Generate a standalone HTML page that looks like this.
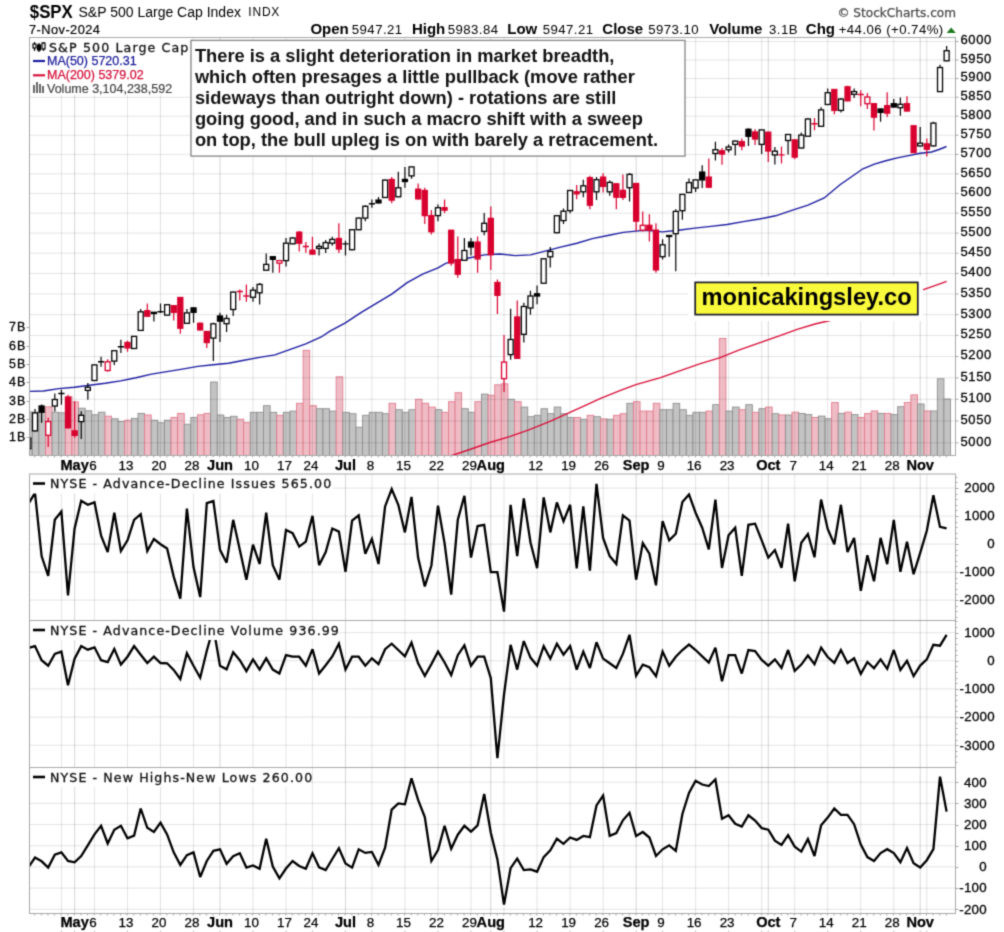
<!DOCTYPE html><html><head><meta charset="utf-8"><title>$SPX S&amp;P 500 Large Cap Index</title>
<style>html,body{margin:0;padding:0;background:#fff;}svg{display:block;}#w{width:1004px;height:932px;overflow:hidden;}.ar{font-family:"Liberation Sans",Arial,sans-serif;}.dv{font-family:"DejaVu Sans",Verdana,sans-serif;}</style></head><body><div id="w">
<svg width="1004" height="932" viewBox="0 0 1004 932">
<defs><filter id="bl" x="0" y="0" width="1004" height="932" filterUnits="userSpaceOnUse" color-interpolation-filters="sRGB"><feConvolveMatrix order="3" kernelMatrix="1 4 1 4 16 4 1 4 1" divisor="36" edgeMode="duplicate"/></filter></defs>
<g filter="url(#bl)">
<rect x="0" y="0" width="1004" height="932" fill="#fff"/>
<clipPath id="pc"><rect x="30" y="38" width="925" height="417.5"/></clipPath>
<g clip-path="url(#pc)">
<rect x="25.69" y="412.0" width="6.61" height="43.5" fill="#c3c3c3" stroke="#8f8f8f" stroke-width="0.9"/>
<rect x="32.30" y="412.2" width="6.61" height="43.3" fill="#c3c3c3" stroke="#8f8f8f" stroke-width="0.9"/>
<rect x="38.90" y="411.8" width="6.61" height="43.7" fill="#c3c3c3" stroke="#8f8f8f" stroke-width="0.9"/>
<rect x="45.51" y="406.9" width="6.61" height="48.6" fill="#efbcc5" stroke="#e07c8e" stroke-width="0.9"/>
<rect x="52.12" y="412.2" width="6.61" height="43.3" fill="#c3c3c3" stroke="#8f8f8f" stroke-width="0.9"/>
<rect x="58.72" y="412.8" width="6.61" height="42.7" fill="#c3c3c3" stroke="#8f8f8f" stroke-width="0.9"/>
<rect x="65.33" y="396.5" width="6.61" height="59.0" fill="#efbcc5" stroke="#e07c8e" stroke-width="0.9"/>
<rect x="71.93" y="401.9" width="6.61" height="53.6" fill="#efbcc5" stroke="#e07c8e" stroke-width="0.9"/>
<rect x="78.54" y="408.2" width="6.61" height="47.3" fill="#c3c3c3" stroke="#8f8f8f" stroke-width="0.9"/>
<rect x="85.14" y="410.8" width="6.61" height="44.7" fill="#c3c3c3" stroke="#8f8f8f" stroke-width="0.9"/>
<rect x="91.75" y="414.8" width="6.61" height="40.7" fill="#c3c3c3" stroke="#8f8f8f" stroke-width="0.9"/>
<rect x="98.36" y="412.2" width="6.61" height="43.3" fill="#c3c3c3" stroke="#8f8f8f" stroke-width="0.9"/>
<rect x="104.96" y="416.2" width="6.61" height="39.3" fill="#efbcc5" stroke="#e07c8e" stroke-width="0.9"/>
<rect x="111.57" y="418.8" width="6.61" height="36.7" fill="#c3c3c3" stroke="#8f8f8f" stroke-width="0.9"/>
<rect x="118.17" y="421.4" width="6.61" height="34.1" fill="#c3c3c3" stroke="#8f8f8f" stroke-width="0.9"/>
<rect x="124.78" y="420.2" width="6.61" height="35.3" fill="#efbcc5" stroke="#e07c8e" stroke-width="0.9"/>
<rect x="131.39" y="418.4" width="6.61" height="37.1" fill="#c3c3c3" stroke="#8f8f8f" stroke-width="0.9"/>
<rect x="137.99" y="413.4" width="6.61" height="42.1" fill="#c3c3c3" stroke="#8f8f8f" stroke-width="0.9"/>
<rect x="144.60" y="415.0" width="6.61" height="40.5" fill="#efbcc5" stroke="#e07c8e" stroke-width="0.9"/>
<rect x="151.21" y="420.2" width="6.61" height="35.3" fill="#c3c3c3" stroke="#8f8f8f" stroke-width="0.9"/>
<rect x="157.81" y="422.8" width="6.61" height="32.7" fill="#c3c3c3" stroke="#8f8f8f" stroke-width="0.9"/>
<rect x="164.42" y="420.2" width="6.61" height="35.3" fill="#c3c3c3" stroke="#8f8f8f" stroke-width="0.9"/>
<rect x="171.02" y="417.4" width="6.61" height="38.1" fill="#efbcc5" stroke="#e07c8e" stroke-width="0.9"/>
<rect x="177.63" y="413.4" width="6.61" height="42.1" fill="#efbcc5" stroke="#e07c8e" stroke-width="0.9"/>
<rect x="184.23" y="424.2" width="6.61" height="31.3" fill="#c3c3c3" stroke="#8f8f8f" stroke-width="0.9"/>
<rect x="190.84" y="417.4" width="6.61" height="38.1" fill="#c3c3c3" stroke="#8f8f8f" stroke-width="0.9"/>
<rect x="197.45" y="414.8" width="6.61" height="40.7" fill="#efbcc5" stroke="#e07c8e" stroke-width="0.9"/>
<rect x="204.05" y="413.4" width="6.61" height="42.1" fill="#efbcc5" stroke="#e07c8e" stroke-width="0.9"/>
<rect x="210.66" y="382.0" width="6.61" height="73.5" fill="#c3c3c3" stroke="#8f8f8f" stroke-width="0.9"/>
<rect x="217.26" y="415.0" width="6.61" height="40.5" fill="#c3c3c3" stroke="#8f8f8f" stroke-width="0.9"/>
<rect x="223.87" y="417.5" width="6.61" height="38.0" fill="#c3c3c3" stroke="#8f8f8f" stroke-width="0.9"/>
<rect x="230.48" y="416.3" width="6.61" height="39.2" fill="#c3c3c3" stroke="#8f8f8f" stroke-width="0.9"/>
<rect x="237.08" y="419.2" width="6.61" height="36.3" fill="#efbcc5" stroke="#e07c8e" stroke-width="0.9"/>
<rect x="243.69" y="422.6" width="6.61" height="32.9" fill="#efbcc5" stroke="#e07c8e" stroke-width="0.9"/>
<rect x="250.29" y="412.3" width="6.61" height="43.2" fill="#c3c3c3" stroke="#8f8f8f" stroke-width="0.9"/>
<rect x="256.90" y="412.3" width="6.61" height="43.2" fill="#c3c3c3" stroke="#8f8f8f" stroke-width="0.9"/>
<rect x="263.51" y="405.7" width="6.61" height="49.8" fill="#c3c3c3" stroke="#8f8f8f" stroke-width="0.9"/>
<rect x="270.11" y="412.3" width="6.61" height="43.2" fill="#c3c3c3" stroke="#8f8f8f" stroke-width="0.9"/>
<rect x="276.72" y="415.3" width="6.61" height="40.2" fill="#efbcc5" stroke="#e07c8e" stroke-width="0.9"/>
<rect x="283.33" y="412.3" width="6.61" height="43.2" fill="#c3c3c3" stroke="#8f8f8f" stroke-width="0.9"/>
<rect x="289.93" y="411.1" width="6.61" height="44.4" fill="#c3c3c3" stroke="#8f8f8f" stroke-width="0.9"/>
<rect x="296.54" y="403.3" width="6.61" height="52.2" fill="#efbcc5" stroke="#e07c8e" stroke-width="0.9"/>
<rect x="303.14" y="350.3" width="6.61" height="105.2" fill="#efbcc5" stroke="#e07c8e" stroke-width="0.9"/>
<rect x="309.75" y="405.7" width="6.61" height="49.8" fill="#efbcc5" stroke="#e07c8e" stroke-width="0.9"/>
<rect x="316.36" y="408.7" width="6.61" height="46.8" fill="#c3c3c3" stroke="#8f8f8f" stroke-width="0.9"/>
<rect x="322.96" y="408.7" width="6.61" height="46.8" fill="#c3c3c3" stroke="#8f8f8f" stroke-width="0.9"/>
<rect x="329.57" y="411.1" width="6.61" height="44.4" fill="#c3c3c3" stroke="#8f8f8f" stroke-width="0.9"/>
<rect x="336.17" y="376.8" width="6.61" height="78.7" fill="#efbcc5" stroke="#e07c8e" stroke-width="0.9"/>
<rect x="342.78" y="412.3" width="6.61" height="43.2" fill="#c3c3c3" stroke="#8f8f8f" stroke-width="0.9"/>
<rect x="349.38" y="413.7" width="6.61" height="41.8" fill="#c3c3c3" stroke="#8f8f8f" stroke-width="0.9"/>
<rect x="355.99" y="427.2" width="6.61" height="28.3" fill="#c3c3c3" stroke="#8f8f8f" stroke-width="0.9"/>
<rect x="362.60" y="415.3" width="6.61" height="40.2" fill="#c3c3c3" stroke="#8f8f8f" stroke-width="0.9"/>
<rect x="369.20" y="412.3" width="6.61" height="43.2" fill="#c3c3c3" stroke="#8f8f8f" stroke-width="0.9"/>
<rect x="375.81" y="412.3" width="6.61" height="43.2" fill="#c3c3c3" stroke="#8f8f8f" stroke-width="0.9"/>
<rect x="382.42" y="413.7" width="6.61" height="41.8" fill="#c3c3c3" stroke="#8f8f8f" stroke-width="0.9"/>
<rect x="389.02" y="403.3" width="6.61" height="52.2" fill="#efbcc5" stroke="#e07c8e" stroke-width="0.9"/>
<rect x="395.63" y="409.7" width="6.61" height="45.8" fill="#c3c3c3" stroke="#8f8f8f" stroke-width="0.9"/>
<rect x="402.23" y="412.3" width="6.61" height="43.2" fill="#c3c3c3" stroke="#8f8f8f" stroke-width="0.9"/>
<rect x="408.84" y="409.7" width="6.61" height="45.8" fill="#c3c3c3" stroke="#8f8f8f" stroke-width="0.9"/>
<rect x="415.44" y="399.3" width="6.61" height="56.2" fill="#efbcc5" stroke="#e07c8e" stroke-width="0.9"/>
<rect x="422.05" y="403.3" width="6.61" height="52.2" fill="#efbcc5" stroke="#e07c8e" stroke-width="0.9"/>
<rect x="428.66" y="407.1" width="6.61" height="48.4" fill="#efbcc5" stroke="#e07c8e" stroke-width="0.9"/>
<rect x="435.26" y="409.7" width="6.61" height="45.8" fill="#c3c3c3" stroke="#8f8f8f" stroke-width="0.9"/>
<rect x="441.87" y="412.3" width="6.61" height="43.2" fill="#efbcc5" stroke="#e07c8e" stroke-width="0.9"/>
<rect x="448.48" y="401.7" width="6.61" height="53.8" fill="#efbcc5" stroke="#e07c8e" stroke-width="0.9"/>
<rect x="455.08" y="392.7" width="6.61" height="62.8" fill="#efbcc5" stroke="#e07c8e" stroke-width="0.9"/>
<rect x="461.69" y="408.7" width="6.61" height="46.8" fill="#c3c3c3" stroke="#8f8f8f" stroke-width="0.9"/>
<rect x="468.29" y="412.3" width="6.61" height="43.2" fill="#c3c3c3" stroke="#8f8f8f" stroke-width="0.9"/>
<rect x="474.90" y="401.7" width="6.61" height="53.8" fill="#efbcc5" stroke="#e07c8e" stroke-width="0.9"/>
<rect x="481.50" y="394.1" width="6.61" height="61.4" fill="#c3c3c3" stroke="#8f8f8f" stroke-width="0.9"/>
<rect x="488.11" y="395.3" width="6.61" height="60.2" fill="#efbcc5" stroke="#e07c8e" stroke-width="0.9"/>
<rect x="494.72" y="384.8" width="6.61" height="70.7" fill="#efbcc5" stroke="#e07c8e" stroke-width="0.9"/>
<rect x="501.32" y="383.8" width="6.61" height="71.7" fill="#efbcc5" stroke="#e07c8e" stroke-width="0.9"/>
<rect x="507.93" y="399.3" width="6.61" height="56.2" fill="#c3c3c3" stroke="#8f8f8f" stroke-width="0.9"/>
<rect x="514.54" y="401.7" width="6.61" height="53.8" fill="#efbcc5" stroke="#e07c8e" stroke-width="0.9"/>
<rect x="521.14" y="407.1" width="6.61" height="48.4" fill="#c3c3c3" stroke="#8f8f8f" stroke-width="0.9"/>
<rect x="527.75" y="416.7" width="6.61" height="38.8" fill="#c3c3c3" stroke="#8f8f8f" stroke-width="0.9"/>
<rect x="534.35" y="415.3" width="6.61" height="40.2" fill="#c3c3c3" stroke="#8f8f8f" stroke-width="0.9"/>
<rect x="540.96" y="408.7" width="6.61" height="46.8" fill="#c3c3c3" stroke="#8f8f8f" stroke-width="0.9"/>
<rect x="547.57" y="413.7" width="6.61" height="41.8" fill="#c3c3c3" stroke="#8f8f8f" stroke-width="0.9"/>
<rect x="554.17" y="407.1" width="6.61" height="48.4" fill="#c3c3c3" stroke="#8f8f8f" stroke-width="0.9"/>
<rect x="560.78" y="413.7" width="6.61" height="41.8" fill="#c3c3c3" stroke="#8f8f8f" stroke-width="0.9"/>
<rect x="567.38" y="417.6" width="6.61" height="37.9" fill="#c3c3c3" stroke="#8f8f8f" stroke-width="0.9"/>
<rect x="573.99" y="417.6" width="6.61" height="37.9" fill="#efbcc5" stroke="#e07c8e" stroke-width="0.9"/>
<rect x="580.60" y="419.2" width="6.61" height="36.3" fill="#c3c3c3" stroke="#8f8f8f" stroke-width="0.9"/>
<rect x="587.20" y="415.3" width="6.61" height="40.2" fill="#efbcc5" stroke="#e07c8e" stroke-width="0.9"/>
<rect x="593.81" y="416.7" width="6.61" height="38.8" fill="#c3c3c3" stroke="#8f8f8f" stroke-width="0.9"/>
<rect x="600.41" y="418.9" width="6.61" height="36.6" fill="#efbcc5" stroke="#e07c8e" stroke-width="0.9"/>
<rect x="607.02" y="419.2" width="6.61" height="36.3" fill="#c3c3c3" stroke="#8f8f8f" stroke-width="0.9"/>
<rect x="613.62" y="415.3" width="6.61" height="40.2" fill="#efbcc5" stroke="#e07c8e" stroke-width="0.9"/>
<rect x="620.23" y="413.7" width="6.61" height="41.8" fill="#efbcc5" stroke="#e07c8e" stroke-width="0.9"/>
<rect x="626.84" y="403.3" width="6.61" height="52.2" fill="#c3c3c3" stroke="#8f8f8f" stroke-width="0.9"/>
<rect x="633.44" y="401.7" width="6.61" height="53.8" fill="#efbcc5" stroke="#e07c8e" stroke-width="0.9"/>
<rect x="640.05" y="411.1" width="6.61" height="44.4" fill="#efbcc5" stroke="#e07c8e" stroke-width="0.9"/>
<rect x="646.65" y="411.1" width="6.61" height="44.4" fill="#efbcc5" stroke="#e07c8e" stroke-width="0.9"/>
<rect x="653.26" y="403.3" width="6.61" height="52.2" fill="#efbcc5" stroke="#e07c8e" stroke-width="0.9"/>
<rect x="659.87" y="409.7" width="6.61" height="45.8" fill="#c3c3c3" stroke="#8f8f8f" stroke-width="0.9"/>
<rect x="666.47" y="409.7" width="6.61" height="45.8" fill="#c3c3c3" stroke="#8f8f8f" stroke-width="0.9"/>
<rect x="673.08" y="403.3" width="6.61" height="52.2" fill="#c3c3c3" stroke="#8f8f8f" stroke-width="0.9"/>
<rect x="679.69" y="409.7" width="6.61" height="45.8" fill="#c3c3c3" stroke="#8f8f8f" stroke-width="0.9"/>
<rect x="686.29" y="415.3" width="6.61" height="40.2" fill="#c3c3c3" stroke="#8f8f8f" stroke-width="0.9"/>
<rect x="692.90" y="412.3" width="6.61" height="43.2" fill="#c3c3c3" stroke="#8f8f8f" stroke-width="0.9"/>
<rect x="699.50" y="412.3" width="6.61" height="43.2" fill="#c3c3c3" stroke="#8f8f8f" stroke-width="0.9"/>
<rect x="706.11" y="411.1" width="6.61" height="44.4" fill="#efbcc5" stroke="#e07c8e" stroke-width="0.9"/>
<rect x="712.72" y="404.7" width="6.61" height="50.8" fill="#c3c3c3" stroke="#8f8f8f" stroke-width="0.9"/>
<rect x="719.32" y="338.4" width="6.61" height="117.1" fill="#efbcc5" stroke="#e07c8e" stroke-width="0.9"/>
<rect x="725.93" y="411.1" width="6.61" height="44.4" fill="#c3c3c3" stroke="#8f8f8f" stroke-width="0.9"/>
<rect x="732.53" y="407.1" width="6.61" height="48.4" fill="#c3c3c3" stroke="#8f8f8f" stroke-width="0.9"/>
<rect x="739.14" y="409.7" width="6.61" height="45.8" fill="#efbcc5" stroke="#e07c8e" stroke-width="0.9"/>
<rect x="745.75" y="404.7" width="6.61" height="50.8" fill="#c3c3c3" stroke="#8f8f8f" stroke-width="0.9"/>
<rect x="752.35" y="412.3" width="6.61" height="43.2" fill="#efbcc5" stroke="#e07c8e" stroke-width="0.9"/>
<rect x="758.96" y="408.7" width="6.61" height="46.8" fill="#c3c3c3" stroke="#8f8f8f" stroke-width="0.9"/>
<rect x="765.56" y="407.1" width="6.61" height="48.4" fill="#efbcc5" stroke="#e07c8e" stroke-width="0.9"/>
<rect x="772.17" y="413.7" width="6.61" height="41.8" fill="#c3c3c3" stroke="#8f8f8f" stroke-width="0.9"/>
<rect x="778.77" y="415.0" width="6.61" height="40.5" fill="#efbcc5" stroke="#e07c8e" stroke-width="0.9"/>
<rect x="785.38" y="415.0" width="6.61" height="40.5" fill="#c3c3c3" stroke="#8f8f8f" stroke-width="0.9"/>
<rect x="791.99" y="412.2" width="6.61" height="43.3" fill="#efbcc5" stroke="#e07c8e" stroke-width="0.9"/>
<rect x="798.59" y="413.4" width="6.61" height="42.1" fill="#c3c3c3" stroke="#8f8f8f" stroke-width="0.9"/>
<rect x="805.20" y="414.6" width="6.61" height="40.9" fill="#c3c3c3" stroke="#8f8f8f" stroke-width="0.9"/>
<rect x="811.81" y="417.5" width="6.61" height="38.0" fill="#efbcc5" stroke="#e07c8e" stroke-width="0.9"/>
<rect x="818.41" y="416.1" width="6.61" height="39.4" fill="#c3c3c3" stroke="#8f8f8f" stroke-width="0.9"/>
<rect x="825.02" y="418.7" width="6.61" height="36.8" fill="#c3c3c3" stroke="#8f8f8f" stroke-width="0.9"/>
<rect x="831.62" y="402.6" width="6.61" height="52.9" fill="#efbcc5" stroke="#e07c8e" stroke-width="0.9"/>
<rect x="838.23" y="413.4" width="6.61" height="42.1" fill="#c3c3c3" stroke="#8f8f8f" stroke-width="0.9"/>
<rect x="844.84" y="412.1" width="6.61" height="43.4" fill="#efbcc5" stroke="#e07c8e" stroke-width="0.9"/>
<rect x="851.44" y="414.6" width="6.61" height="40.9" fill="#c3c3c3" stroke="#8f8f8f" stroke-width="0.9"/>
<rect x="858.05" y="417.5" width="6.61" height="38.0" fill="#efbcc5" stroke="#e07c8e" stroke-width="0.9"/>
<rect x="864.65" y="413.4" width="6.61" height="42.1" fill="#efbcc5" stroke="#e07c8e" stroke-width="0.9"/>
<rect x="871.26" y="411.0" width="6.61" height="44.5" fill="#efbcc5" stroke="#e07c8e" stroke-width="0.9"/>
<rect x="877.87" y="413.4" width="6.61" height="42.1" fill="#c3c3c3" stroke="#8f8f8f" stroke-width="0.9"/>
<rect x="884.47" y="413.4" width="6.61" height="42.1" fill="#efbcc5" stroke="#e07c8e" stroke-width="0.9"/>
<rect x="891.08" y="414.6" width="6.61" height="40.9" fill="#c3c3c3" stroke="#8f8f8f" stroke-width="0.9"/>
<rect x="897.68" y="406.7" width="6.61" height="48.8" fill="#c3c3c3" stroke="#8f8f8f" stroke-width="0.9"/>
<rect x="904.29" y="402.6" width="6.61" height="52.9" fill="#efbcc5" stroke="#e07c8e" stroke-width="0.9"/>
<rect x="910.89" y="394.9" width="6.61" height="60.6" fill="#efbcc5" stroke="#e07c8e" stroke-width="0.9"/>
<rect x="917.50" y="404.0" width="6.61" height="51.5" fill="#c3c3c3" stroke="#8f8f8f" stroke-width="0.9"/>
<rect x="924.11" y="411.0" width="6.61" height="44.5" fill="#efbcc5" stroke="#e07c8e" stroke-width="0.9"/>
<rect x="930.71" y="411.0" width="6.61" height="44.5" fill="#c3c3c3" stroke="#8f8f8f" stroke-width="0.9"/>
<rect x="937.32" y="378.8" width="6.61" height="76.7" fill="#c3c3c3" stroke="#8f8f8f" stroke-width="0.9"/>
<rect x="943.92" y="399.0" width="6.61" height="56.5" fill="#c3c3c3" stroke="#8f8f8f" stroke-width="0.9"/>
</g>
<g>
<line x1="29.5" y1="442.88" x2="955.5" y2="442.88" stroke="rgba(0,0,0,0.11)" stroke-width="1"/>
<line x1="29.5" y1="420.97" x2="955.5" y2="420.97" stroke="rgba(0,0,0,0.11)" stroke-width="1"/>
<line x1="29.5" y1="399.29" x2="955.5" y2="399.29" stroke="rgba(0,0,0,0.11)" stroke-width="1"/>
<line x1="29.5" y1="377.81" x2="955.5" y2="377.81" stroke="rgba(0,0,0,0.11)" stroke-width="1"/>
<line x1="29.5" y1="356.54" x2="955.5" y2="356.54" stroke="rgba(0,0,0,0.11)" stroke-width="1"/>
<line x1="29.5" y1="335.48" x2="955.5" y2="335.48" stroke="rgba(0,0,0,0.11)" stroke-width="1"/>
<line x1="29.5" y1="314.61" x2="955.5" y2="314.61" stroke="rgba(0,0,0,0.11)" stroke-width="1"/>
<line x1="29.5" y1="293.95" x2="955.5" y2="293.95" stroke="rgba(0,0,0,0.11)" stroke-width="1"/>
<line x1="29.5" y1="273.47" x2="955.5" y2="273.47" stroke="rgba(0,0,0,0.11)" stroke-width="1"/>
<line x1="29.5" y1="253.18" x2="955.5" y2="253.18" stroke="rgba(0,0,0,0.11)" stroke-width="1"/>
<line x1="29.5" y1="233.08" x2="955.5" y2="233.08" stroke="rgba(0,0,0,0.11)" stroke-width="1"/>
<line x1="29.5" y1="213.16" x2="955.5" y2="213.16" stroke="rgba(0,0,0,0.11)" stroke-width="1"/>
<line x1="29.5" y1="193.42" x2="955.5" y2="193.42" stroke="rgba(0,0,0,0.11)" stroke-width="1"/>
<line x1="29.5" y1="173.85" x2="955.5" y2="173.85" stroke="rgba(0,0,0,0.11)" stroke-width="1"/>
<line x1="29.5" y1="154.46" x2="955.5" y2="154.46" stroke="rgba(0,0,0,0.11)" stroke-width="1"/>
<line x1="29.5" y1="135.23" x2="955.5" y2="135.23" stroke="rgba(0,0,0,0.11)" stroke-width="1"/>
<line x1="29.5" y1="116.17" x2="955.5" y2="116.17" stroke="rgba(0,0,0,0.11)" stroke-width="1"/>
<line x1="29.5" y1="97.28" x2="955.5" y2="97.28" stroke="rgba(0,0,0,0.11)" stroke-width="1"/>
<line x1="29.5" y1="78.55" x2="955.5" y2="78.55" stroke="rgba(0,0,0,0.11)" stroke-width="1"/>
<line x1="29.5" y1="59.97" x2="955.5" y2="59.97" stroke="rgba(0,0,0,0.11)" stroke-width="1"/>
<line x1="29.5" y1="41.55" x2="955.5" y2="41.55" stroke="rgba(0,0,0,0.11)" stroke-width="1"/>
<line x1="61.42" y1="37.5" x2="61.42" y2="455.5" stroke="rgba(0,0,0,0.11)" stroke-width="1"/><line x1="74.64" y1="37.5" x2="74.64" y2="455.5" stroke="rgba(0,0,0,0.17)" stroke-width="1"/><line x1="94.45" y1="37.5" x2="94.45" y2="455.5" stroke="rgba(0,0,0,0.11)" stroke-width="1"/><line x1="127.48" y1="37.5" x2="127.48" y2="455.5" stroke="rgba(0,0,0,0.11)" stroke-width="1"/><line x1="160.51" y1="37.5" x2="160.51" y2="455.5" stroke="rgba(0,0,0,0.11)" stroke-width="1"/><line x1="193.54" y1="37.5" x2="193.54" y2="455.5" stroke="rgba(0,0,0,0.11)" stroke-width="1"/><line x1="219.97" y1="37.5" x2="219.97" y2="455.5" stroke="rgba(0,0,0,0.17)" stroke-width="1"/><line x1="253.00" y1="37.5" x2="253.00" y2="455.5" stroke="rgba(0,0,0,0.11)" stroke-width="1"/><line x1="286.03" y1="37.5" x2="286.03" y2="455.5" stroke="rgba(0,0,0,0.11)" stroke-width="1"/><line x1="312.45" y1="37.5" x2="312.45" y2="455.5" stroke="rgba(0,0,0,0.11)" stroke-width="1"/><line x1="345.48" y1="37.5" x2="345.48" y2="455.5" stroke="rgba(0,0,0,0.17)" stroke-width="1"/><line x1="371.91" y1="37.5" x2="371.91" y2="455.5" stroke="rgba(0,0,0,0.11)" stroke-width="1"/><line x1="404.94" y1="37.5" x2="404.94" y2="455.5" stroke="rgba(0,0,0,0.11)" stroke-width="1"/><line x1="437.97" y1="37.5" x2="437.97" y2="455.5" stroke="rgba(0,0,0,0.11)" stroke-width="1"/><line x1="471.00" y1="37.5" x2="471.00" y2="455.5" stroke="rgba(0,0,0,0.11)" stroke-width="1"/><line x1="490.81" y1="37.5" x2="490.81" y2="455.5" stroke="rgba(0,0,0,0.17)" stroke-width="1"/><line x1="504.03" y1="37.5" x2="504.03" y2="455.5" stroke="rgba(0,0,0,0.11)" stroke-width="1"/><line x1="537.06" y1="37.5" x2="537.06" y2="455.5" stroke="rgba(0,0,0,0.11)" stroke-width="1"/><line x1="570.09" y1="37.5" x2="570.09" y2="455.5" stroke="rgba(0,0,0,0.11)" stroke-width="1"/><line x1="603.12" y1="37.5" x2="603.12" y2="455.5" stroke="rgba(0,0,0,0.11)" stroke-width="1"/><line x1="636.15" y1="37.5" x2="636.15" y2="455.5" stroke="rgba(0,0,0,0.17)" stroke-width="1"/><line x1="662.57" y1="37.5" x2="662.57" y2="455.5" stroke="rgba(0,0,0,0.11)" stroke-width="1"/><line x1="695.60" y1="37.5" x2="695.60" y2="455.5" stroke="rgba(0,0,0,0.11)" stroke-width="1"/><line x1="728.63" y1="37.5" x2="728.63" y2="455.5" stroke="rgba(0,0,0,0.11)" stroke-width="1"/><line x1="761.66" y1="37.5" x2="761.66" y2="455.5" stroke="rgba(0,0,0,0.11)" stroke-width="1"/><line x1="768.27" y1="37.5" x2="768.27" y2="455.5" stroke="rgba(0,0,0,0.17)" stroke-width="1"/><line x1="794.69" y1="37.5" x2="794.69" y2="455.5" stroke="rgba(0,0,0,0.11)" stroke-width="1"/><line x1="827.72" y1="37.5" x2="827.72" y2="455.5" stroke="rgba(0,0,0,0.11)" stroke-width="1"/><line x1="860.75" y1="37.5" x2="860.75" y2="455.5" stroke="rgba(0,0,0,0.11)" stroke-width="1"/><line x1="893.78" y1="37.5" x2="893.78" y2="455.5" stroke="rgba(0,0,0,0.11)" stroke-width="1"/><line x1="920.20" y1="37.5" x2="920.20" y2="455.5" stroke="rgba(0,0,0,0.17)" stroke-width="1"/><line x1="926.81" y1="37.5" x2="926.81" y2="455.5" stroke="rgba(0,0,0,0.11)" stroke-width="1"/>
</g>
<polyline clip-path="url(#pc)" points="450.5,456.0 469.8,449.5 489.7,442.5 509.6,436.6 529.5,429.6 549.4,421.6 569.4,412.7 589.3,403.7 600.0,398.7 619.9,390.7 635.9,384.7 659.8,377.8 679.7,370.8 699.6,363.8 719.5,357.8 739.4,349.9 759.4,342.9 779.3,335.9 797.9,329.2 815.9,323.8 829.3,320.7 850.0,314.0 918.0,292.0 923.4,289.6 934.2,285.8 946.7,281.3" fill="none" stroke="#d8123c" stroke-width="1.4"/>
<polyline clip-path="url(#pc)" points="29.5,391.4 43.4,391.0 58.9,388.6 74.3,387.3 89.7,385.2 105.2,383.3 120.6,380.9 136.0,377.8 151.5,374.1 166.9,371.6 182.3,369.1 197.8,366.4 213.2,364.8 228.6,363.3 244.0,360.2 259.5,357.4 274.9,354.9 290.3,349.4 305.8,343.8 321.2,337.0 330.0,331.2 345.4,322.8 360.9,312.7 376.3,303.4 391.7,294.1 407.2,282.7 422.6,274.1 438.0,267.9 445.7,263.3 453.5,261.1 468.9,258.0 484.3,254.9 499.8,254.0 515.2,255.6 530.6,254.9 546.0,250.9 561.5,246.9 576.9,243.2 592.3,238.6 607.8,235.5 623.2,232.4 638.6,230.9 646.2,230.3 662.4,231.9 678.5,230.3 694.7,228.1 710.9,226.4 727.1,224.5 743.3,221.6 759.4,219.0 775.6,215.8 791.8,210.3 808.0,205.1 824.2,198.0 840.0,184.8 851.5,176.8 862.9,168.8 874.4,164.2 885.8,160.8 897.3,157.9 908.7,155.6 920.2,153.3 931.6,152.0 939.0,149.5 946.5,146.5" fill="none" stroke="#1c1ca0" stroke-width="1.4"/>
<g clip-path="url(#pc)">
<line x1="28.39" y1="436" x2="28.39" y2="450" stroke="#000000" stroke-width="1.2"/>
<rect x="25.89" y="438.1" width="5.0" height="10.6" fill="#fff" stroke="#000000" stroke-width="1.3"/>
<line x1="35.00" y1="409.1" x2="35.00" y2="431.5" stroke="#000000" stroke-width="1.2"/>
<rect x="32.50" y="412.9" width="5.0" height="18.0" fill="#fff" stroke="#000000" stroke-width="1.3"/>
<line x1="41.61" y1="404.5" x2="41.61" y2="422.8" stroke="#000000" stroke-width="1.2"/>
<rect x="39.11" y="406" width="5.0" height="6.2" fill="#000000" stroke="#000000" stroke-width="1.3"/>
<line x1="48.21" y1="417.8" x2="48.21" y2="447.1" stroke="#d8002e" stroke-width="1.2"/>
<rect x="45.71" y="421.6" width="5.0" height="13.7" fill="#fff" stroke="#d8002e" stroke-width="1.3"/>
<line x1="54.82" y1="393.5" x2="54.82" y2="411.6" stroke="#000000" stroke-width="1.2"/>
<rect x="52.32" y="399.5" width="5.0" height="6.5" fill="#fff" stroke="#000000" stroke-width="1.3"/>
<line x1="61.42" y1="389.8" x2="61.42" y2="404.8" stroke="#000000" stroke-width="1.2"/>
<line x1="58.32" y1="393.5" x2="64.52" y2="393.5" stroke="#000000" stroke-width="1.4"/>
<line x1="68.03" y1="394.8" x2="68.03" y2="428.5" stroke="#d8002e" stroke-width="1.2"/>
<rect x="65.53" y="397.3" width="5.0" height="30.5" fill="#d8002e" stroke="#d8002e" stroke-width="1.3"/>
<line x1="74.64" y1="401.6" x2="74.64" y2="437.8" stroke="#d8002e" stroke-width="1.2"/>
<rect x="72.14" y="430.9" width="5.0" height="4.4" fill="#d8002e" stroke="#d8002e" stroke-width="1.3"/>
<line x1="81.24" y1="411.2" x2="81.24" y2="439" stroke="#000000" stroke-width="1.2"/>
<rect x="78.74" y="415.3" width="5.0" height="6.3" fill="#fff" stroke="#000000" stroke-width="1.3"/>
<line x1="87.85" y1="383" x2="87.85" y2="399.8" stroke="#000000" stroke-width="1.2"/>
<rect x="85.35" y="387.3" width="5.0" height="3.1" fill="#fff" stroke="#000000" stroke-width="1.3"/>
<line x1="94.45" y1="364.5" x2="94.45" y2="381" stroke="#000000" stroke-width="1.2"/>
<rect x="91.95" y="364.9" width="5.0" height="15.6" fill="#fff" stroke="#000000" stroke-width="1.3"/>
<line x1="101.06" y1="356.8" x2="101.06" y2="366.8" stroke="#000000" stroke-width="1.2"/>
<line x1="97.96" y1="361.8" x2="104.16" y2="361.8" stroke="#000000" stroke-width="1.4"/>
<line x1="107.67" y1="359.3" x2="107.67" y2="371.8" stroke="#d8002e" stroke-width="1.2"/>
<rect x="105.17" y="361.8" width="5.0" height="8.7" fill="#fff" stroke="#d8002e" stroke-width="1.3"/>
<line x1="114.27" y1="350.2" x2="114.27" y2="364.9" stroke="#000000" stroke-width="1.2"/>
<rect x="111.77" y="350.7" width="5.0" height="10.4" fill="#fff" stroke="#000000" stroke-width="1.3"/>
<line x1="120.88" y1="339.7" x2="120.88" y2="352.9" stroke="#000000" stroke-width="1.2"/>
<line x1="117.78" y1="346.8" x2="123.98" y2="346.8" stroke="#000000" stroke-width="1.4"/>
<line x1="127.48" y1="340.8" x2="127.48" y2="351.8" stroke="#d8002e" stroke-width="1.2"/>
<rect x="124.98" y="342.5" width="5.0" height="5.4" fill="#d8002e" stroke="#d8002e" stroke-width="1.3"/>
<line x1="134.09" y1="335.9" x2="134.09" y2="349" stroke="#000000" stroke-width="1.2"/>
<rect x="131.59" y="336.4" width="5.0" height="12.1" fill="#fff" stroke="#000000" stroke-width="1.3"/>
<line x1="140.70" y1="309" x2="140.70" y2="330.8" stroke="#000000" stroke-width="1.2"/>
<rect x="138.20" y="311.8" width="5.0" height="18.6" fill="#fff" stroke="#000000" stroke-width="1.3"/>
<line x1="147.30" y1="303.6" x2="147.30" y2="316.7" stroke="#d8002e" stroke-width="1.2"/>
<rect x="144.80" y="310.7" width="5.0" height="5.5" fill="#d8002e" stroke="#d8002e" stroke-width="1.3"/>
<line x1="153.91" y1="312" x2="153.91" y2="321.6" stroke="#000000" stroke-width="1.2"/>
<rect x="151.41" y="312.3" width="5.0" height="1.2" fill="#000000" stroke="#000000" stroke-width="1.3"/>
<line x1="160.51" y1="303.6" x2="160.51" y2="312.9" stroke="#000000" stroke-width="1.2"/>
<line x1="157.41" y1="311.8" x2="163.61" y2="311.8" stroke="#000000" stroke-width="1.4"/>
<line x1="167.12" y1="304.2" x2="167.12" y2="315.6" stroke="#000000" stroke-width="1.2"/>
<rect x="164.62" y="304.7" width="5.0" height="10.4" fill="#fff" stroke="#000000" stroke-width="1.3"/>
<line x1="173.73" y1="305.2" x2="173.73" y2="320.5" stroke="#d8002e" stroke-width="1.2"/>
<rect x="171.23" y="305.7" width="5.0" height="6.6" fill="#d8002e" stroke="#d8002e" stroke-width="1.3"/>
<line x1="180.33" y1="297" x2="180.33" y2="333.7" stroke="#d8002e" stroke-width="1.2"/>
<rect x="177.83" y="297.5" width="5.0" height="30.7" fill="#d8002e" stroke="#d8002e" stroke-width="1.3"/>
<line x1="186.94" y1="309" x2="186.94" y2="323.8" stroke="#000000" stroke-width="1.2"/>
<rect x="184.44" y="312.9" width="5.0" height="10.4" fill="#fff" stroke="#000000" stroke-width="1.3"/>
<line x1="193.54" y1="307.5" x2="193.54" y2="322.7" stroke="#000000" stroke-width="1.2"/>
<rect x="191.04" y="307.9" width="5.0" height="4.4" fill="#000000" stroke="#000000" stroke-width="1.3"/>
<line x1="200.15" y1="322.5" x2="200.15" y2="330.4" stroke="#d8002e" stroke-width="1.2"/>
<rect x="197.65" y="323.3" width="5.0" height="6.6" fill="#d8002e" stroke="#d8002e" stroke-width="1.3"/>
<line x1="206.76" y1="331" x2="206.76" y2="347.9" stroke="#d8002e" stroke-width="1.2"/>
<rect x="204.26" y="331.5" width="5.0" height="11.0" fill="#d8002e" stroke="#d8002e" stroke-width="1.3"/>
<line x1="213.36" y1="322.7" x2="213.36" y2="361.1" stroke="#000000" stroke-width="1.2"/>
<rect x="210.86" y="323.8" width="5.0" height="14.3" fill="#fff" stroke="#000000" stroke-width="1.3"/>
<line x1="219.97" y1="312.7" x2="219.97" y2="342" stroke="#000000" stroke-width="1.2"/>
<rect x="217.47" y="316" width="5.0" height="5.1" fill="#000000" stroke="#000000" stroke-width="1.3"/>
<line x1="226.57" y1="314.7" x2="226.57" y2="332" stroke="#000000" stroke-width="1.2"/>
<rect x="224.07" y="318.5" width="5.0" height="5.2" fill="#fff" stroke="#000000" stroke-width="1.3"/>
<line x1="233.18" y1="291.6" x2="233.18" y2="316" stroke="#000000" stroke-width="1.2"/>
<rect x="230.68" y="292.1" width="5.0" height="17.4" fill="#fff" stroke="#000000" stroke-width="1.3"/>
<line x1="239.79" y1="289.6" x2="239.79" y2="300.5" stroke="#d8002e" stroke-width="1.2"/>
<line x1="236.69" y1="291.5" x2="242.89" y2="291.5" stroke="#d8002e" stroke-width="1.4"/>
<line x1="246.39" y1="284.4" x2="246.39" y2="301.8" stroke="#d8002e" stroke-width="1.2"/>
<line x1="243.29" y1="296" x2="249.49" y2="296" stroke="#d8002e" stroke-width="1.4"/>
<line x1="253.00" y1="287" x2="253.00" y2="301.8" stroke="#000000" stroke-width="1.2"/>
<rect x="250.50" y="290.2" width="5.0" height="7.1" fill="#fff" stroke="#000000" stroke-width="1.3"/>
<line x1="259.60" y1="283.1" x2="259.60" y2="304.4" stroke="#000000" stroke-width="1.2"/>
<rect x="257.10" y="284.4" width="5.0" height="8.4" fill="#fff" stroke="#000000" stroke-width="1.3"/>
<line x1="266.21" y1="253.5" x2="266.21" y2="270.7" stroke="#000000" stroke-width="1.2"/>
<rect x="263.71" y="264.4" width="5.0" height="5.8" fill="#fff" stroke="#000000" stroke-width="1.3"/>
<line x1="272.82" y1="256.2" x2="272.82" y2="272.8" stroke="#000000" stroke-width="1.2"/>
<rect x="270.32" y="256.7" width="5.0" height="2.6" fill="#000000" stroke="#000000" stroke-width="1.3"/>
<line x1="279.42" y1="260.1" x2="279.42" y2="272.8" stroke="#d8002e" stroke-width="1.2"/>
<rect x="276.92" y="260.6" width="5.0" height="2.5" fill="#fff" stroke="#d8002e" stroke-width="1.3"/>
<line x1="286.03" y1="238" x2="286.03" y2="266.4" stroke="#000000" stroke-width="1.2"/>
<rect x="283.53" y="243.2" width="5.0" height="17.4" fill="#fff" stroke="#000000" stroke-width="1.3"/>
<line x1="292.63" y1="237" x2="292.63" y2="244.3" stroke="#000000" stroke-width="1.2"/>
<rect x="290.13" y="238" width="5.0" height="5.8" fill="#fff" stroke="#000000" stroke-width="1.3"/>
<line x1="299.24" y1="231" x2="299.24" y2="251.6" stroke="#d8002e" stroke-width="1.2"/>
<rect x="296.74" y="232.2" width="5.0" height="11.0" fill="#d8002e" stroke="#d8002e" stroke-width="1.3"/>
<line x1="305.85" y1="241.9" x2="305.85" y2="252.8" stroke="#d8002e" stroke-width="1.2"/>
<line x1="302.75" y1="246.5" x2="308.95" y2="246.5" stroke="#d8002e" stroke-width="1.4"/>
<line x1="312.45" y1="236.7" x2="312.45" y2="254.6" stroke="#d8002e" stroke-width="1.2"/>
<rect x="309.95" y="250.2" width="5.0" height="3.9" fill="#d8002e" stroke="#d8002e" stroke-width="1.3"/>
<line x1="319.06" y1="243.6" x2="319.06" y2="255.5" stroke="#000000" stroke-width="1.2"/>
<rect x="316.56" y="246.4" width="5.0" height="2.0" fill="#fff" stroke="#000000" stroke-width="1.3"/>
<line x1="325.66" y1="240" x2="325.66" y2="252.9" stroke="#000000" stroke-width="1.2"/>
<rect x="323.16" y="242.6" width="5.0" height="5.8" fill="#fff" stroke="#000000" stroke-width="1.3"/>
<line x1="332.27" y1="236.8" x2="332.27" y2="245.8" stroke="#000000" stroke-width="1.2"/>
<rect x="329.77" y="239.4" width="5.0" height="3.8" fill="#fff" stroke="#000000" stroke-width="1.3"/>
<line x1="338.88" y1="223.3" x2="338.88" y2="252.9" stroke="#d8002e" stroke-width="1.2"/>
<rect x="336.38" y="238.5" width="5.0" height="10.5" fill="#d8002e" stroke="#d8002e" stroke-width="1.3"/>
<line x1="345.48" y1="240.7" x2="345.48" y2="255.5" stroke="#000000" stroke-width="1.2"/>
<line x1="342.38" y1="243.9" x2="348.58" y2="243.9" stroke="#000000" stroke-width="1.4"/>
<line x1="352.09" y1="229.2" x2="352.09" y2="250.2" stroke="#000000" stroke-width="1.2"/>
<rect x="349.59" y="229.7" width="5.0" height="20.0" fill="#fff" stroke="#000000" stroke-width="1.3"/>
<line x1="358.69" y1="217.6" x2="358.69" y2="230.2" stroke="#000000" stroke-width="1.2"/>
<rect x="356.19" y="218.1" width="5.0" height="11.6" fill="#fff" stroke="#000000" stroke-width="1.3"/>
<line x1="365.30" y1="205.2" x2="365.30" y2="221.3" stroke="#000000" stroke-width="1.2"/>
<rect x="362.80" y="206.3" width="5.0" height="11.8" fill="#fff" stroke="#000000" stroke-width="1.3"/>
<line x1="371.91" y1="199.4" x2="371.91" y2="207.8" stroke="#000000" stroke-width="1.2"/>
<line x1="368.81" y1="203.7" x2="375.01" y2="203.7" stroke="#000000" stroke-width="1.4"/>
<line x1="378.51" y1="196.9" x2="378.51" y2="203.4" stroke="#000000" stroke-width="1.2"/>
<rect x="376.01" y="200.1" width="5.0" height="2.8" fill="#000000" stroke="#000000" stroke-width="1.3"/>
<line x1="385.12" y1="179.6" x2="385.12" y2="198" stroke="#000000" stroke-width="1.2"/>
<rect x="382.62" y="180.1" width="5.0" height="17.4" fill="#fff" stroke="#000000" stroke-width="1.3"/>
<line x1="391.72" y1="176.9" x2="391.72" y2="203.3" stroke="#d8002e" stroke-width="1.2"/>
<rect x="389.22" y="179.5" width="5.0" height="20.6" fill="#d8002e" stroke="#d8002e" stroke-width="1.3"/>
<line x1="398.33" y1="171.7" x2="398.33" y2="197.3" stroke="#000000" stroke-width="1.2"/>
<rect x="395.83" y="187.8" width="5.0" height="9.0" fill="#fff" stroke="#000000" stroke-width="1.3"/>
<line x1="404.94" y1="166.9" x2="404.94" y2="187.8" stroke="#000000" stroke-width="1.2"/>
<rect x="402.44" y="179.4" width="5.0" height="2.1" fill="#000000" stroke="#000000" stroke-width="1.3"/>
<line x1="411.54" y1="166.4" x2="411.54" y2="178.7" stroke="#000000" stroke-width="1.2"/>
<rect x="409.04" y="166.9" width="5.0" height="9.0" fill="#fff" stroke="#000000" stroke-width="1.3"/>
<line x1="418.15" y1="183.6" x2="418.15" y2="199.4" stroke="#d8002e" stroke-width="1.2"/>
<rect x="415.65" y="189.2" width="5.0" height="9.7" fill="#d8002e" stroke="#d8002e" stroke-width="1.3"/>
<line x1="424.75" y1="187.8" x2="424.75" y2="224" stroke="#d8002e" stroke-width="1.2"/>
<rect x="422.25" y="190.5" width="5.0" height="25.1" fill="#d8002e" stroke="#d8002e" stroke-width="1.3"/>
<line x1="431.36" y1="210.1" x2="431.36" y2="234.5" stroke="#d8002e" stroke-width="1.2"/>
<rect x="428.86" y="215.6" width="5.0" height="16.1" fill="#d8002e" stroke="#d8002e" stroke-width="1.3"/>
<line x1="437.97" y1="204.5" x2="437.97" y2="221.2" stroke="#000000" stroke-width="1.2"/>
<rect x="435.47" y="207.7" width="5.0" height="7.9" fill="#fff" stroke="#000000" stroke-width="1.3"/>
<line x1="444.57" y1="199.6" x2="444.57" y2="212.9" stroke="#d8002e" stroke-width="1.2"/>
<rect x="442.07" y="207.7" width="5.0" height="2.4" fill="#d8002e" stroke="#d8002e" stroke-width="1.3"/>
<line x1="451.18" y1="229.8" x2="451.18" y2="265.8" stroke="#d8002e" stroke-width="1.2"/>
<rect x="448.68" y="230.3" width="5.0" height="32.7" fill="#d8002e" stroke="#d8002e" stroke-width="1.3"/>
<line x1="457.78" y1="236.6" x2="457.78" y2="277.7" stroke="#d8002e" stroke-width="1.2"/>
<rect x="455.28" y="259.6" width="5.0" height="14.6" fill="#d8002e" stroke="#d8002e" stroke-width="1.3"/>
<line x1="464.39" y1="238" x2="464.39" y2="260.8" stroke="#000000" stroke-width="1.2"/>
<rect x="461.89" y="250.5" width="5.0" height="9.8" fill="#fff" stroke="#000000" stroke-width="1.3"/>
<line x1="471.00" y1="238" x2="471.00" y2="255.4" stroke="#000000" stroke-width="1.2"/>
<rect x="468.50" y="242.1" width="5.0" height="4.9" fill="#000000" stroke="#000000" stroke-width="1.3"/>
<line x1="477.60" y1="236.6" x2="477.60" y2="272.8" stroke="#d8002e" stroke-width="1.2"/>
<rect x="475.10" y="242.1" width="5.0" height="16.8" fill="#d8002e" stroke="#d8002e" stroke-width="1.3"/>
<line x1="484.21" y1="212.9" x2="484.21" y2="235.2" stroke="#000000" stroke-width="1.2"/>
<rect x="481.71" y="223.3" width="5.0" height="8.1" fill="#fff" stroke="#000000" stroke-width="1.3"/>
<line x1="490.81" y1="206.6" x2="490.81" y2="270" stroke="#d8002e" stroke-width="1.2"/>
<rect x="488.31" y="218.4" width="5.0" height="36.3" fill="#d8002e" stroke="#d8002e" stroke-width="1.3"/>
<line x1="497.42" y1="279.5" x2="497.42" y2="314" stroke="#d8002e" stroke-width="1.2"/>
<rect x="494.92" y="282.5" width="5.0" height="12.8" fill="#d8002e" stroke="#d8002e" stroke-width="1.3"/>
<line x1="504.03" y1="335" x2="504.03" y2="392.1" stroke="#d8002e" stroke-width="1.2"/>
<rect x="501.53" y="362.1" width="5.0" height="16.5" fill="#fff" stroke="#d8002e" stroke-width="1.3"/>
<line x1="510.63" y1="308.8" x2="510.63" y2="359.8" stroke="#000000" stroke-width="1.2"/>
<rect x="508.13" y="339.5" width="5.0" height="15.1" fill="#fff" stroke="#000000" stroke-width="1.3"/>
<line x1="517.24" y1="300.5" x2="517.24" y2="358.8" stroke="#d8002e" stroke-width="1.2"/>
<rect x="514.74" y="317" width="5.0" height="41.3" fill="#d8002e" stroke="#d8002e" stroke-width="1.3"/>
<line x1="523.84" y1="302.8" x2="523.84" y2="342.6" stroke="#000000" stroke-width="1.2"/>
<rect x="521.34" y="306.5" width="5.0" height="27.8" fill="#fff" stroke="#000000" stroke-width="1.3"/>
<line x1="530.45" y1="290.8" x2="530.45" y2="314.8" stroke="#000000" stroke-width="1.2"/>
<rect x="527.95" y="296" width="5.0" height="12.0" fill="#fff" stroke="#000000" stroke-width="1.3"/>
<line x1="537.06" y1="285.5" x2="537.06" y2="304.3" stroke="#000000" stroke-width="1.2"/>
<rect x="534.56" y="293.8" width="5.0" height="2.2" fill="#000000" stroke="#000000" stroke-width="1.3"/>
<line x1="543.66" y1="258.3" x2="543.66" y2="283.7" stroke="#000000" stroke-width="1.2"/>
<rect x="541.16" y="258.8" width="5.0" height="24.4" fill="#fff" stroke="#000000" stroke-width="1.3"/>
<line x1="550.27" y1="247" x2="550.27" y2="267.5" stroke="#000000" stroke-width="1.2"/>
<rect x="547.77" y="251.5" width="5.0" height="5.3" fill="#fff" stroke="#000000" stroke-width="1.3"/>
<line x1="556.87" y1="215.2" x2="556.87" y2="233.2" stroke="#000000" stroke-width="1.2"/>
<rect x="554.37" y="215.7" width="5.0" height="17.0" fill="#fff" stroke="#000000" stroke-width="1.3"/>
<line x1="563.48" y1="208.6" x2="563.48" y2="224" stroke="#000000" stroke-width="1.2"/>
<rect x="560.98" y="211.2" width="5.0" height="9.4" fill="#fff" stroke="#000000" stroke-width="1.3"/>
<line x1="570.09" y1="190" x2="570.09" y2="213.3" stroke="#000000" stroke-width="1.2"/>
<rect x="567.59" y="190.5" width="5.0" height="20.1" fill="#fff" stroke="#000000" stroke-width="1.3"/>
<line x1="576.69" y1="185.1" x2="576.69" y2="199.2" stroke="#d8002e" stroke-width="1.2"/>
<rect x="574.19" y="191.8" width="5.0" height="2.0" fill="#d8002e" stroke="#d8002e" stroke-width="1.3"/>
<line x1="583.30" y1="179.7" x2="583.30" y2="197.2" stroke="#000000" stroke-width="1.2"/>
<rect x="580.80" y="185.8" width="5.0" height="6.0" fill="#fff" stroke="#000000" stroke-width="1.3"/>
<line x1="589.90" y1="175.7" x2="589.90" y2="209.2" stroke="#d8002e" stroke-width="1.2"/>
<rect x="587.40" y="177.7" width="5.0" height="27.5" fill="#d8002e" stroke="#d8002e" stroke-width="1.3"/>
<line x1="596.51" y1="177.1" x2="596.51" y2="200.1" stroke="#000000" stroke-width="1.2"/>
<rect x="594.01" y="179.7" width="5.0" height="12.1" fill="#fff" stroke="#000000" stroke-width="1.3"/>
<line x1="603.12" y1="173.3" x2="603.12" y2="192.5" stroke="#d8002e" stroke-width="1.2"/>
<rect x="600.62" y="177.1" width="5.0" height="9.3" fill="#d8002e" stroke="#d8002e" stroke-width="1.3"/>
<line x1="609.72" y1="180.5" x2="609.72" y2="195.8" stroke="#000000" stroke-width="1.2"/>
<rect x="607.22" y="182.4" width="5.0" height="9.4" fill="#fff" stroke="#000000" stroke-width="1.3"/>
<line x1="616.33" y1="183.3" x2="616.33" y2="209.2" stroke="#d8002e" stroke-width="1.2"/>
<rect x="613.83" y="183.8" width="5.0" height="13.4" fill="#d8002e" stroke="#d8002e" stroke-width="1.3"/>
<line x1="622.93" y1="174.4" x2="622.93" y2="200" stroke="#d8002e" stroke-width="1.2"/>
<rect x="620.43" y="190.4" width="5.0" height="6.9" fill="#d8002e" stroke="#d8002e" stroke-width="1.3"/>
<line x1="629.54" y1="173" x2="629.54" y2="201.6" stroke="#000000" stroke-width="1.2"/>
<rect x="627.04" y="174.4" width="5.0" height="13.3" fill="#fff" stroke="#000000" stroke-width="1.3"/>
<line x1="636.15" y1="183" x2="636.15" y2="230.9" stroke="#d8002e" stroke-width="1.2"/>
<rect x="633.65" y="183.5" width="5.0" height="37.6" fill="#d8002e" stroke="#d8002e" stroke-width="1.3"/>
<line x1="642.75" y1="211.4" x2="642.75" y2="231.6" stroke="#d8002e" stroke-width="1.2"/>
<rect x="640.25" y="225.3" width="5.0" height="4.9" fill="#fff" stroke="#d8002e" stroke-width="1.3"/>
<line x1="649.36" y1="214.2" x2="649.36" y2="241.4" stroke="#d8002e" stroke-width="1.2"/>
<rect x="646.86" y="225.3" width="5.0" height="4.9" fill="#d8002e" stroke="#d8002e" stroke-width="1.3"/>
<line x1="655.96" y1="223.2" x2="655.96" y2="272.7" stroke="#d8002e" stroke-width="1.2"/>
<rect x="653.46" y="230.2" width="5.0" height="39.7" fill="#d8002e" stroke="#d8002e" stroke-width="1.3"/>
<line x1="662.57" y1="239.3" x2="662.57" y2="259.5" stroke="#000000" stroke-width="1.2"/>
<rect x="660.07" y="244.8" width="5.0" height="11.9" fill="#fff" stroke="#000000" stroke-width="1.3"/>
<line x1="669.18" y1="235" x2="669.18" y2="256.7" stroke="#000000" stroke-width="1.2"/>
<rect x="666.68" y="235.5" width="5.0" height="1.0" fill="#000000" stroke="#000000" stroke-width="1.3"/>
<line x1="675.78" y1="209.3" x2="675.78" y2="271.3" stroke="#000000" stroke-width="1.2"/>
<rect x="673.28" y="211.4" width="5.0" height="22.3" fill="#fff" stroke="#000000" stroke-width="1.3"/>
<line x1="682.39" y1="193.9" x2="682.39" y2="219.7" stroke="#000000" stroke-width="1.2"/>
<rect x="679.89" y="194.4" width="5.0" height="16.3" fill="#fff" stroke="#000000" stroke-width="1.3"/>
<line x1="688.99" y1="178.4" x2="688.99" y2="193" stroke="#000000" stroke-width="1.2"/>
<rect x="686.49" y="182.6" width="5.0" height="9.9" fill="#fff" stroke="#000000" stroke-width="1.3"/>
<line x1="695.60" y1="179.4" x2="695.60" y2="192" stroke="#000000" stroke-width="1.2"/>
<rect x="693.10" y="179.9" width="5.0" height="8.1" fill="#fff" stroke="#000000" stroke-width="1.3"/>
<line x1="702.21" y1="165.3" x2="702.21" y2="188" stroke="#000000" stroke-width="1.2"/>
<rect x="699.71" y="172.1" width="5.0" height="7.8" fill="#000000" stroke="#000000" stroke-width="1.3"/>
<line x1="708.81" y1="158.6" x2="708.81" y2="187.7" stroke="#d8002e" stroke-width="1.2"/>
<rect x="706.31" y="177.1" width="5.0" height="10.1" fill="#d8002e" stroke="#d8002e" stroke-width="1.3"/>
<line x1="715.42" y1="141.7" x2="715.42" y2="160.5" stroke="#000000" stroke-width="1.2"/>
<rect x="712.92" y="149.7" width="5.0" height="3.8" fill="#fff" stroke="#000000" stroke-width="1.3"/>
<line x1="722.02" y1="148.1" x2="722.02" y2="164.7" stroke="#d8002e" stroke-width="1.2"/>
<rect x="719.52" y="150.8" width="5.0" height="3.2" fill="#d8002e" stroke="#d8002e" stroke-width="1.3"/>
<line x1="728.63" y1="144.4" x2="728.63" y2="152.4" stroke="#000000" stroke-width="1.2"/>
<rect x="726.13" y="147" width="5.0" height="2.7" fill="#fff" stroke="#000000" stroke-width="1.3"/>
<line x1="735.24" y1="140.6" x2="735.24" y2="155.6" stroke="#000000" stroke-width="1.2"/>
<rect x="732.74" y="141.1" width="5.0" height="3.3" fill="#fff" stroke="#000000" stroke-width="1.3"/>
<line x1="741.84" y1="138.5" x2="741.84" y2="150.3" stroke="#d8002e" stroke-width="1.2"/>
<rect x="739.34" y="141.7" width="5.0" height="4.3" fill="#d8002e" stroke="#d8002e" stroke-width="1.3"/>
<line x1="748.45" y1="128.3" x2="748.45" y2="146" stroke="#000000" stroke-width="1.2"/>
<rect x="745.95" y="129.3" width="5.0" height="7.0" fill="#000000" stroke="#000000" stroke-width="1.3"/>
<line x1="755.05" y1="129.3" x2="755.05" y2="144.9" stroke="#d8002e" stroke-width="1.2"/>
<rect x="752.55" y="132" width="5.0" height="7.0" fill="#d8002e" stroke="#d8002e" stroke-width="1.3"/>
<line x1="761.66" y1="129.4" x2="761.66" y2="154" stroke="#000000" stroke-width="1.2"/>
<rect x="759.16" y="129.9" width="5.0" height="14.5" fill="#fff" stroke="#000000" stroke-width="1.3"/>
<line x1="768.27" y1="131.7" x2="768.27" y2="162" stroke="#d8002e" stroke-width="1.2"/>
<rect x="765.77" y="132.2" width="5.0" height="18.8" fill="#d8002e" stroke="#d8002e" stroke-width="1.3"/>
<line x1="774.87" y1="146.9" x2="774.87" y2="164.6" stroke="#000000" stroke-width="1.2"/>
<rect x="772.37" y="151.2" width="5.0" height="3.7" fill="#fff" stroke="#000000" stroke-width="1.3"/>
<line x1="781.48" y1="146.4" x2="781.48" y2="163.5" stroke="#d8002e" stroke-width="1.2"/>
<line x1="778.38" y1="154.9" x2="784.58" y2="154.9" stroke="#d8002e" stroke-width="1.4"/>
<line x1="788.08" y1="134" x2="788.08" y2="154.4" stroke="#000000" stroke-width="1.2"/>
<rect x="785.58" y="134.5" width="5.0" height="6.0" fill="#fff" stroke="#000000" stroke-width="1.3"/>
<line x1="794.69" y1="139.4" x2="794.69" y2="159.2" stroke="#d8002e" stroke-width="1.2"/>
<rect x="792.19" y="139.9" width="5.0" height="17.2" fill="#d8002e" stroke="#d8002e" stroke-width="1.3"/>
<line x1="801.30" y1="132.4" x2="801.30" y2="148.5" stroke="#000000" stroke-width="1.2"/>
<rect x="798.80" y="135.1" width="5.0" height="12.9" fill="#fff" stroke="#000000" stroke-width="1.3"/>
<line x1="807.90" y1="118" x2="807.90" y2="136.7" stroke="#000000" stroke-width="1.2"/>
<rect x="805.40" y="119" width="5.0" height="17.2" fill="#fff" stroke="#000000" stroke-width="1.3"/>
<line x1="814.51" y1="117.9" x2="814.51" y2="130.3" stroke="#d8002e" stroke-width="1.2"/>
<line x1="811.41" y1="123.8" x2="817.61" y2="123.8" stroke="#d8002e" stroke-width="1.4"/>
<line x1="821.11" y1="107.2" x2="821.11" y2="126.8" stroke="#000000" stroke-width="1.2"/>
<rect x="818.61" y="109.9" width="5.0" height="16.4" fill="#fff" stroke="#000000" stroke-width="1.3"/>
<line x1="827.72" y1="88.4" x2="827.72" y2="105" stroke="#000000" stroke-width="1.2"/>
<rect x="825.22" y="92.7" width="5.0" height="11.8" fill="#fff" stroke="#000000" stroke-width="1.3"/>
<line x1="834.33" y1="89" x2="834.33" y2="114.2" stroke="#d8002e" stroke-width="1.2"/>
<rect x="831.83" y="89.5" width="5.0" height="20.9" fill="#d8002e" stroke="#d8002e" stroke-width="1.3"/>
<line x1="840.93" y1="98.1" x2="840.93" y2="112.6" stroke="#000000" stroke-width="1.2"/>
<rect x="838.43" y="99.1" width="5.0" height="11.3" fill="#fff" stroke="#000000" stroke-width="1.3"/>
<line x1="847.54" y1="85.7" x2="847.54" y2="101.3" stroke="#d8002e" stroke-width="1.2"/>
<rect x="845.04" y="86.8" width="5.0" height="14.0" fill="#d8002e" stroke="#d8002e" stroke-width="1.3"/>
<line x1="854.14" y1="88.4" x2="854.14" y2="98.1" stroke="#000000" stroke-width="1.2"/>
<rect x="851.64" y="91.6" width="5.0" height="2.7" fill="#fff" stroke="#000000" stroke-width="1.3"/>
<line x1="860.75" y1="90.2" x2="860.75" y2="106.2" stroke="#d8002e" stroke-width="1.2"/>
<line x1="857.65" y1="94.5" x2="863.85" y2="94.5" stroke="#d8002e" stroke-width="1.4"/>
<line x1="867.36" y1="93" x2="867.36" y2="109" stroke="#d8002e" stroke-width="1.2"/>
<rect x="864.86" y="97" width="5.0" height="6.7" fill="#fff" stroke="#d8002e" stroke-width="1.3"/>
<line x1="873.96" y1="103.2" x2="873.96" y2="130.5" stroke="#d8002e" stroke-width="1.2"/>
<rect x="871.46" y="103.7" width="5.0" height="13.4" fill="#d8002e" stroke="#d8002e" stroke-width="1.3"/>
<line x1="880.57" y1="108.5" x2="880.57" y2="121.8" stroke="#000000" stroke-width="1.2"/>
<rect x="878.07" y="109" width="5.0" height="3.4" fill="#000000" stroke="#000000" stroke-width="1.3"/>
<line x1="887.17" y1="92.3" x2="887.17" y2="117.1" stroke="#d8002e" stroke-width="1.2"/>
<rect x="884.67" y="105.7" width="5.0" height="7.4" fill="#d8002e" stroke="#d8002e" stroke-width="1.3"/>
<line x1="893.78" y1="99" x2="893.78" y2="107.5" stroke="#000000" stroke-width="1.2"/>
<rect x="891.28" y="103.7" width="5.0" height="3.3" fill="#000000" stroke="#000000" stroke-width="1.3"/>
<line x1="900.39" y1="97.6" x2="900.39" y2="115.7" stroke="#000000" stroke-width="1.2"/>
<rect x="897.89" y="104.3" width="5.0" height="3.4" fill="#fff" stroke="#000000" stroke-width="1.3"/>
<line x1="906.99" y1="96.3" x2="906.99" y2="111.5" stroke="#d8002e" stroke-width="1.2"/>
<rect x="904.49" y="103.7" width="5.0" height="7.3" fill="#d8002e" stroke="#d8002e" stroke-width="1.3"/>
<line x1="913.60" y1="125.3" x2="913.60" y2="153.1" stroke="#d8002e" stroke-width="1.2"/>
<rect x="911.10" y="125.8" width="5.0" height="26.8" fill="#d8002e" stroke="#d8002e" stroke-width="1.3"/>
<line x1="920.20" y1="127.1" x2="920.20" y2="146.4" stroke="#000000" stroke-width="1.2"/>
<rect x="917.70" y="143.2" width="5.0" height="2.7" fill="#fff" stroke="#000000" stroke-width="1.3"/>
<line x1="926.81" y1="138.5" x2="926.81" y2="156.6" stroke="#d8002e" stroke-width="1.2"/>
<rect x="924.31" y="143.9" width="5.0" height="5.3" fill="#d8002e" stroke="#d8002e" stroke-width="1.3"/>
<line x1="933.42" y1="121.8" x2="933.42" y2="146.4" stroke="#000000" stroke-width="1.2"/>
<rect x="930.92" y="123.1" width="5.0" height="22.8" fill="#fff" stroke="#000000" stroke-width="1.3"/>
<line x1="940.02" y1="64.8" x2="940.02" y2="92.1" stroke="#000000" stroke-width="1.2"/>
<rect x="937.52" y="67.5" width="5.0" height="24.1" fill="#fff" stroke="#000000" stroke-width="1.3"/>
<line x1="946.63" y1="46" x2="946.63" y2="61.3" stroke="#000000" stroke-width="1.2"/>
<rect x="944.13" y="50.7" width="5.0" height="10.1" fill="#fff" stroke="#000000" stroke-width="1.3"/>
</g>
<rect x="30" y="38" width="160" height="57" fill="#fff"/>
<g stroke="#000" stroke-width="1.2"><line x1="34.5" y1="42" x2="34.5" y2="51"/><rect x="33" y="44" width="3" height="4" fill="#fff"/><line x1="39" y1="43" x2="39" y2="52"/><rect x="37.5" y="45" width="3" height="5" fill="#000"/><line x1="43.5" y1="42" x2="43.5" y2="51"/><rect x="42" y="43" width="3" height="6" fill="#fff"/></g>
<text class="dv" x="49" y="51.5" font-size="12.6" letter-spacing="1.12" fill="#111" stroke="#111" stroke-width="0.3">S&amp;P 500 Large Cap</text>
<line x1="33" y1="61" x2="45" y2="61" stroke="#1c1ca0" stroke-width="2.2"/>
<text class="ar" x="47" y="65.2" font-size="12.5" fill="#1c1c9a" stroke="#1c1c9a" stroke-width="0.25">MA(50) 5720.31</text>
<line x1="33" y1="75.3" x2="45" y2="75.3" stroke="#d8123c" stroke-width="2.2"/>
<text class="ar" x="47" y="79.4" font-size="12.5" fill="#d4103a" stroke="#d4103a" stroke-width="0.25">MA(200) 5379.02</text>
<g fill="#666"><rect x="33" y="85" width="2" height="8"/><rect x="36" y="82" width="2" height="11"/><rect x="39" y="84" width="2" height="9"/><rect x="42" y="86" width="2" height="7"/></g>
<text class="ar" x="47" y="93.2" font-size="12.5" fill="#444" stroke="#444" stroke-width="0.2">Volume 3,104,238,592</text>
<rect x="191" y="40.4" width="494" height="115.7" fill="#fff" stroke="#8c8c8c" stroke-width="1.4"/>
<text class="ar" x="194.9" y="61.9" font-size="18.3" font-weight="bold" fill="#111">There is a slight deterioration in market breadth,</text>
<text class="ar" x="194.9" y="83.2" font-size="18.3" font-weight="bold" fill="#111">which often presages a little pullback (move rather</text>
<text class="ar" x="194.9" y="103.9" font-size="18.3" font-weight="bold" fill="#111">sideways than outright down) - rotations are still</text>
<text class="ar" x="194.9" y="124.9" font-size="18.3" font-weight="bold" fill="#111">going good, and in such a macro shift with a sweep</text>
<text class="ar" x="194.9" y="146.1" font-size="18.3" font-weight="bold" fill="#111">on top, the bull upleg is on with barely a retracement.</text>
<rect x="688" y="276.5" width="235" height="44.5" fill="#fff"/>
<rect x="695.2" y="282.4" width="222.6" height="32.2" fill="#fafa3c" stroke="#1a1a28" stroke-width="1.7"/>
<text class="ar" x="701.5" y="305" font-size="23.7" font-weight="bold" fill="#000">monicakingsley.co</text>
<rect x="29.5" y="37.5" width="926.0" height="418.0" fill="none" stroke="#a8a8a8" stroke-width="1"/>
<line x1="955.5" y1="442.88" x2="958.5" y2="442.88" stroke="#a8a8a8" stroke-width="1"/>
<text class="ar" x="991.8" y="445.8" font-size="13" letter-spacing="0.6" text-anchor="end" fill="#000" stroke="#000" stroke-width="0.3">5000</text>
<line x1="955.5" y1="420.97" x2="958.5" y2="420.97" stroke="#a8a8a8" stroke-width="1"/>
<text class="ar" x="991.8" y="423.9" font-size="13" letter-spacing="0.6" text-anchor="end" fill="#000" stroke="#000" stroke-width="0.3">5050</text>
<line x1="955.5" y1="399.29" x2="958.5" y2="399.29" stroke="#a8a8a8" stroke-width="1"/>
<text class="ar" x="991.8" y="402.2" font-size="13" letter-spacing="0.6" text-anchor="end" fill="#000" stroke="#000" stroke-width="0.3">5100</text>
<line x1="955.5" y1="377.81" x2="958.5" y2="377.81" stroke="#a8a8a8" stroke-width="1"/>
<text class="ar" x="991.8" y="380.7" font-size="13" letter-spacing="0.6" text-anchor="end" fill="#000" stroke="#000" stroke-width="0.3">5150</text>
<line x1="955.5" y1="356.54" x2="958.5" y2="356.54" stroke="#a8a8a8" stroke-width="1"/>
<text class="ar" x="991.8" y="359.4" font-size="13" letter-spacing="0.6" text-anchor="end" fill="#000" stroke="#000" stroke-width="0.3">5200</text>
<line x1="955.5" y1="335.48" x2="958.5" y2="335.48" stroke="#a8a8a8" stroke-width="1"/>
<text class="ar" x="991.8" y="338.4" font-size="13" letter-spacing="0.6" text-anchor="end" fill="#000" stroke="#000" stroke-width="0.3">5250</text>
<line x1="955.5" y1="314.61" x2="958.5" y2="314.61" stroke="#a8a8a8" stroke-width="1"/>
<text class="ar" x="991.8" y="317.5" font-size="13" letter-spacing="0.6" text-anchor="end" fill="#000" stroke="#000" stroke-width="0.3">5300</text>
<line x1="955.5" y1="293.95" x2="958.5" y2="293.95" stroke="#a8a8a8" stroke-width="1"/>
<text class="ar" x="991.8" y="296.8" font-size="13" letter-spacing="0.6" text-anchor="end" fill="#000" stroke="#000" stroke-width="0.3">5350</text>
<line x1="955.5" y1="273.47" x2="958.5" y2="273.47" stroke="#a8a8a8" stroke-width="1"/>
<text class="ar" x="991.8" y="276.4" font-size="13" letter-spacing="0.6" text-anchor="end" fill="#000" stroke="#000" stroke-width="0.3">5400</text>
<line x1="955.5" y1="253.18" x2="958.5" y2="253.18" stroke="#a8a8a8" stroke-width="1"/>
<text class="ar" x="991.8" y="256.1" font-size="13" letter-spacing="0.6" text-anchor="end" fill="#000" stroke="#000" stroke-width="0.3">5450</text>
<line x1="955.5" y1="233.08" x2="958.5" y2="233.08" stroke="#a8a8a8" stroke-width="1"/>
<text class="ar" x="991.8" y="236.0" font-size="13" letter-spacing="0.6" text-anchor="end" fill="#000" stroke="#000" stroke-width="0.3">5500</text>
<line x1="955.5" y1="213.16" x2="958.5" y2="213.16" stroke="#a8a8a8" stroke-width="1"/>
<text class="ar" x="991.8" y="216.1" font-size="13" letter-spacing="0.6" text-anchor="end" fill="#000" stroke="#000" stroke-width="0.3">5550</text>
<line x1="955.5" y1="193.42" x2="958.5" y2="193.42" stroke="#a8a8a8" stroke-width="1"/>
<text class="ar" x="991.8" y="196.3" font-size="13" letter-spacing="0.6" text-anchor="end" fill="#000" stroke="#000" stroke-width="0.3">5600</text>
<line x1="955.5" y1="173.85" x2="958.5" y2="173.85" stroke="#a8a8a8" stroke-width="1"/>
<text class="ar" x="991.8" y="176.8" font-size="13" letter-spacing="0.6" text-anchor="end" fill="#000" stroke="#000" stroke-width="0.3">5650</text>
<line x1="955.5" y1="154.46" x2="958.5" y2="154.46" stroke="#a8a8a8" stroke-width="1"/>
<text class="ar" x="991.8" y="157.4" font-size="13" letter-spacing="0.6" text-anchor="end" fill="#000" stroke="#000" stroke-width="0.3">5700</text>
<line x1="955.5" y1="135.23" x2="958.5" y2="135.23" stroke="#a8a8a8" stroke-width="1"/>
<text class="ar" x="991.8" y="138.1" font-size="13" letter-spacing="0.6" text-anchor="end" fill="#000" stroke="#000" stroke-width="0.3">5750</text>
<line x1="955.5" y1="116.17" x2="958.5" y2="116.17" stroke="#a8a8a8" stroke-width="1"/>
<text class="ar" x="991.8" y="119.1" font-size="13" letter-spacing="0.6" text-anchor="end" fill="#000" stroke="#000" stroke-width="0.3">5800</text>
<line x1="955.5" y1="97.28" x2="958.5" y2="97.28" stroke="#a8a8a8" stroke-width="1"/>
<text class="ar" x="991.8" y="100.2" font-size="13" letter-spacing="0.6" text-anchor="end" fill="#000" stroke="#000" stroke-width="0.3">5850</text>
<line x1="955.5" y1="78.55" x2="958.5" y2="78.55" stroke="#a8a8a8" stroke-width="1"/>
<text class="ar" x="991.8" y="81.4" font-size="13" letter-spacing="0.6" text-anchor="end" fill="#000" stroke="#000" stroke-width="0.3">5900</text>
<line x1="955.5" y1="59.97" x2="958.5" y2="59.97" stroke="#a8a8a8" stroke-width="1"/>
<text class="ar" x="991.8" y="62.9" font-size="13" letter-spacing="0.6" text-anchor="end" fill="#000" stroke="#000" stroke-width="0.3">5950</text>
<line x1="955.5" y1="41.55" x2="958.5" y2="41.55" stroke="#a8a8a8" stroke-width="1"/>
<text class="ar" x="991.8" y="44.4" font-size="13" letter-spacing="0.6" text-anchor="end" fill="#000" stroke="#000" stroke-width="0.3">6000</text>
<line x1="26.5" y1="437.5" x2="29.5" y2="437.5" stroke="#a8a8a8" stroke-width="1"/>
<text class="ar" x="26.3" y="441.2" font-size="12.4" letter-spacing="1.1" text-anchor="end" fill="#000" stroke="#000" stroke-width="0.3">1B</text>
<line x1="26.5" y1="419.5" x2="29.5" y2="419.5" stroke="#a8a8a8" stroke-width="1"/>
<text class="ar" x="26.3" y="422.9" font-size="12.4" letter-spacing="1.1" text-anchor="end" fill="#000" stroke="#000" stroke-width="0.3">2B</text>
<line x1="26.5" y1="401.5" x2="29.5" y2="401.5" stroke="#a8a8a8" stroke-width="1"/>
<text class="ar" x="26.3" y="404.6" font-size="12.4" letter-spacing="1.1" text-anchor="end" fill="#000" stroke="#000" stroke-width="0.3">3B</text>
<line x1="26.5" y1="382.5" x2="29.5" y2="382.5" stroke="#a8a8a8" stroke-width="1"/>
<text class="ar" x="26.3" y="386.3" font-size="12.4" letter-spacing="1.1" text-anchor="end" fill="#000" stroke="#000" stroke-width="0.3">4B</text>
<line x1="26.5" y1="364.5" x2="29.5" y2="364.5" stroke="#a8a8a8" stroke-width="1"/>
<text class="ar" x="26.3" y="368.0" font-size="12.4" letter-spacing="1.1" text-anchor="end" fill="#000" stroke="#000" stroke-width="0.3">5B</text>
<line x1="26.5" y1="346.5" x2="29.5" y2="346.5" stroke="#a8a8a8" stroke-width="1"/>
<text class="ar" x="26.3" y="349.7" font-size="12.4" letter-spacing="1.1" text-anchor="end" fill="#000" stroke="#000" stroke-width="0.3">6B</text>
<line x1="26.5" y1="327.5" x2="29.5" y2="327.5" stroke="#a8a8a8" stroke-width="1"/>
<text class="ar" x="26.3" y="331.4" font-size="12.4" letter-spacing="1.1" text-anchor="end" fill="#000" stroke="#000" stroke-width="0.3">7B</text>
<text class="ar" x="29.8" y="17.9" font-size="18" font-weight="bold" textLength="43" lengthAdjust="spacingAndGlyphs" fill="#000">$SPX</text>
<text class="ar" x="78.5" y="17" font-size="14" fill="#000">S&amp;P 500 Large Cap Index</text>
<text class="ar" x="248.3" y="16.3" font-size="12" letter-spacing="0.8" fill="#000">INDX</text>
<text class="ar" x="29" y="34.2" font-size="12.8" letter-spacing="0.45" fill="#000" stroke="#000" stroke-width="0.2">7-Nov-2024</text>
<text class="ar" x="310.4" y="34.2" font-size="15" font-weight="bold" fill="#000">Open</text>
<text class="ar" x="351.8" y="34.2" font-size="13.2" letter-spacing="0.45" fill="#000">5947.21</text>
<text class="ar" x="411.9" y="34.2" font-size="15" font-weight="bold" fill="#000">High</text>
<text class="ar" x="447.7" y="34.2" font-size="13.2" letter-spacing="0.45" fill="#000">5983.84</text>
<text class="ar" x="507.3" y="34.2" font-size="15" font-weight="bold" fill="#000">Low</text>
<text class="ar" x="542.7" y="34.2" font-size="13.2" letter-spacing="0.45" fill="#000">5947.21</text>
<text class="ar" x="602.3" y="34.2" font-size="15" font-weight="bold" fill="#000">Close</text>
<text class="ar" x="648.2" y="34.2" font-size="13.2" letter-spacing="0.45" fill="#000">5973.10</text>
<text class="ar" x="709.3" y="34.2" font-size="15" font-weight="bold" fill="#000">Volume</text>
<text class="ar" x="769" y="34.2" font-size="13.2" letter-spacing="0.45" fill="#000">3.1B</text>
<text class="ar" x="805.8" y="34.2" font-size="15" font-weight="bold" fill="#000">Chg</text>
<text class="ar" x="838.7" y="34.2" font-size="13.2" letter-spacing="0.45" fill="#000">+44.06 (+0.74%)</text>
<polygon points="946.6,32.9 955.8,32.9 951.2,27.6" fill="#1f7a1f"/>
<text class="dv" x="837.4" y="17.2" font-size="12.1" fill="#4a4a4a" stroke="#4a4a4a" stroke-width="0.25">&#169; StockCharts.com</text>
<line x1="34.7" y1="455.5" x2="34.7" y2="457.5" stroke="#a8a8a8" stroke-width="1"/><line x1="41.31" y1="455.5" x2="41.31" y2="457.5" stroke="#a8a8a8" stroke-width="1"/><line x1="47.91" y1="455.5" x2="47.91" y2="457.5" stroke="#a8a8a8" stroke-width="1"/><line x1="54.52" y1="455.5" x2="54.52" y2="457.5" stroke="#a8a8a8" stroke-width="1"/><line x1="61.12" y1="455.5" x2="61.12" y2="457.5" stroke="#a8a8a8" stroke-width="1"/><line x1="67.73" y1="455.5" x2="67.73" y2="457.5" stroke="#a8a8a8" stroke-width="1"/><line x1="74.34" y1="455.5" x2="74.34" y2="457.5" stroke="#a8a8a8" stroke-width="1"/><line x1="80.94" y1="455.5" x2="80.94" y2="457.5" stroke="#a8a8a8" stroke-width="1"/><line x1="87.55" y1="455.5" x2="87.55" y2="457.5" stroke="#a8a8a8" stroke-width="1"/><line x1="94.15" y1="455.5" x2="94.15" y2="457.5" stroke="#a8a8a8" stroke-width="1"/><line x1="100.76" y1="455.5" x2="100.76" y2="457.5" stroke="#a8a8a8" stroke-width="1"/><line x1="107.37" y1="455.5" x2="107.37" y2="457.5" stroke="#a8a8a8" stroke-width="1"/><line x1="113.97" y1="455.5" x2="113.97" y2="457.5" stroke="#a8a8a8" stroke-width="1"/><line x1="120.58" y1="455.5" x2="120.58" y2="457.5" stroke="#a8a8a8" stroke-width="1"/><line x1="127.18" y1="455.5" x2="127.18" y2="457.5" stroke="#a8a8a8" stroke-width="1"/><line x1="133.79" y1="455.5" x2="133.79" y2="457.5" stroke="#a8a8a8" stroke-width="1"/><line x1="140.4" y1="455.5" x2="140.4" y2="457.5" stroke="#a8a8a8" stroke-width="1"/><line x1="147.0" y1="455.5" x2="147.0" y2="457.5" stroke="#a8a8a8" stroke-width="1"/><line x1="153.61" y1="455.5" x2="153.61" y2="457.5" stroke="#a8a8a8" stroke-width="1"/><line x1="160.21" y1="455.5" x2="160.21" y2="457.5" stroke="#a8a8a8" stroke-width="1"/><line x1="166.82" y1="455.5" x2="166.82" y2="457.5" stroke="#a8a8a8" stroke-width="1"/><line x1="173.43" y1="455.5" x2="173.43" y2="457.5" stroke="#a8a8a8" stroke-width="1"/><line x1="180.03" y1="455.5" x2="180.03" y2="457.5" stroke="#a8a8a8" stroke-width="1"/><line x1="186.64" y1="455.5" x2="186.64" y2="457.5" stroke="#a8a8a8" stroke-width="1"/><line x1="193.24" y1="455.5" x2="193.24" y2="457.5" stroke="#a8a8a8" stroke-width="1"/><line x1="199.85" y1="455.5" x2="199.85" y2="457.5" stroke="#a8a8a8" stroke-width="1"/><line x1="206.46" y1="455.5" x2="206.46" y2="457.5" stroke="#a8a8a8" stroke-width="1"/><line x1="213.06" y1="455.5" x2="213.06" y2="457.5" stroke="#a8a8a8" stroke-width="1"/><line x1="219.67" y1="455.5" x2="219.67" y2="457.5" stroke="#a8a8a8" stroke-width="1"/><line x1="226.27" y1="455.5" x2="226.27" y2="457.5" stroke="#a8a8a8" stroke-width="1"/><line x1="232.88" y1="455.5" x2="232.88" y2="457.5" stroke="#a8a8a8" stroke-width="1"/><line x1="239.49" y1="455.5" x2="239.49" y2="457.5" stroke="#a8a8a8" stroke-width="1"/><line x1="246.09" y1="455.5" x2="246.09" y2="457.5" stroke="#a8a8a8" stroke-width="1"/><line x1="252.7" y1="455.5" x2="252.7" y2="457.5" stroke="#a8a8a8" stroke-width="1"/><line x1="259.3" y1="455.5" x2="259.3" y2="457.5" stroke="#a8a8a8" stroke-width="1"/><line x1="265.91" y1="455.5" x2="265.91" y2="457.5" stroke="#a8a8a8" stroke-width="1"/><line x1="272.52" y1="455.5" x2="272.52" y2="457.5" stroke="#a8a8a8" stroke-width="1"/><line x1="279.12" y1="455.5" x2="279.12" y2="457.5" stroke="#a8a8a8" stroke-width="1"/><line x1="285.73" y1="455.5" x2="285.73" y2="457.5" stroke="#a8a8a8" stroke-width="1"/><line x1="292.33" y1="455.5" x2="292.33" y2="457.5" stroke="#a8a8a8" stroke-width="1"/><line x1="298.94" y1="455.5" x2="298.94" y2="457.5" stroke="#a8a8a8" stroke-width="1"/><line x1="305.55" y1="455.5" x2="305.55" y2="457.5" stroke="#a8a8a8" stroke-width="1"/><line x1="312.15" y1="455.5" x2="312.15" y2="457.5" stroke="#a8a8a8" stroke-width="1"/><line x1="318.76" y1="455.5" x2="318.76" y2="457.5" stroke="#a8a8a8" stroke-width="1"/><line x1="325.36" y1="455.5" x2="325.36" y2="457.5" stroke="#a8a8a8" stroke-width="1"/><line x1="331.97" y1="455.5" x2="331.97" y2="457.5" stroke="#a8a8a8" stroke-width="1"/><line x1="338.58" y1="455.5" x2="338.58" y2="457.5" stroke="#a8a8a8" stroke-width="1"/><line x1="345.18" y1="455.5" x2="345.18" y2="457.5" stroke="#a8a8a8" stroke-width="1"/><line x1="351.79" y1="455.5" x2="351.79" y2="457.5" stroke="#a8a8a8" stroke-width="1"/><line x1="358.39" y1="455.5" x2="358.39" y2="457.5" stroke="#a8a8a8" stroke-width="1"/><line x1="365.0" y1="455.5" x2="365.0" y2="457.5" stroke="#a8a8a8" stroke-width="1"/><line x1="371.61" y1="455.5" x2="371.61" y2="457.5" stroke="#a8a8a8" stroke-width="1"/><line x1="378.21" y1="455.5" x2="378.21" y2="457.5" stroke="#a8a8a8" stroke-width="1"/><line x1="384.82" y1="455.5" x2="384.82" y2="457.5" stroke="#a8a8a8" stroke-width="1"/><line x1="391.42" y1="455.5" x2="391.42" y2="457.5" stroke="#a8a8a8" stroke-width="1"/><line x1="398.03" y1="455.5" x2="398.03" y2="457.5" stroke="#a8a8a8" stroke-width="1"/><line x1="404.64" y1="455.5" x2="404.64" y2="457.5" stroke="#a8a8a8" stroke-width="1"/><line x1="411.24" y1="455.5" x2="411.24" y2="457.5" stroke="#a8a8a8" stroke-width="1"/><line x1="417.85" y1="455.5" x2="417.85" y2="457.5" stroke="#a8a8a8" stroke-width="1"/><line x1="424.45" y1="455.5" x2="424.45" y2="457.5" stroke="#a8a8a8" stroke-width="1"/><line x1="431.06" y1="455.5" x2="431.06" y2="457.5" stroke="#a8a8a8" stroke-width="1"/><line x1="437.67" y1="455.5" x2="437.67" y2="457.5" stroke="#a8a8a8" stroke-width="1"/><line x1="444.27" y1="455.5" x2="444.27" y2="457.5" stroke="#a8a8a8" stroke-width="1"/><line x1="450.88" y1="455.5" x2="450.88" y2="457.5" stroke="#a8a8a8" stroke-width="1"/><line x1="457.48" y1="455.5" x2="457.48" y2="457.5" stroke="#a8a8a8" stroke-width="1"/><line x1="464.09" y1="455.5" x2="464.09" y2="457.5" stroke="#a8a8a8" stroke-width="1"/><line x1="470.7" y1="455.5" x2="470.7" y2="457.5" stroke="#a8a8a8" stroke-width="1"/><line x1="477.3" y1="455.5" x2="477.3" y2="457.5" stroke="#a8a8a8" stroke-width="1"/><line x1="483.91" y1="455.5" x2="483.91" y2="457.5" stroke="#a8a8a8" stroke-width="1"/><line x1="490.51" y1="455.5" x2="490.51" y2="457.5" stroke="#a8a8a8" stroke-width="1"/><line x1="497.12" y1="455.5" x2="497.12" y2="457.5" stroke="#a8a8a8" stroke-width="1"/><line x1="503.73" y1="455.5" x2="503.73" y2="457.5" stroke="#a8a8a8" stroke-width="1"/><line x1="510.33" y1="455.5" x2="510.33" y2="457.5" stroke="#a8a8a8" stroke-width="1"/><line x1="516.94" y1="455.5" x2="516.94" y2="457.5" stroke="#a8a8a8" stroke-width="1"/><line x1="523.54" y1="455.5" x2="523.54" y2="457.5" stroke="#a8a8a8" stroke-width="1"/><line x1="530.15" y1="455.5" x2="530.15" y2="457.5" stroke="#a8a8a8" stroke-width="1"/><line x1="536.76" y1="455.5" x2="536.76" y2="457.5" stroke="#a8a8a8" stroke-width="1"/><line x1="543.36" y1="455.5" x2="543.36" y2="457.5" stroke="#a8a8a8" stroke-width="1"/><line x1="549.97" y1="455.5" x2="549.97" y2="457.5" stroke="#a8a8a8" stroke-width="1"/><line x1="556.57" y1="455.5" x2="556.57" y2="457.5" stroke="#a8a8a8" stroke-width="1"/><line x1="563.18" y1="455.5" x2="563.18" y2="457.5" stroke="#a8a8a8" stroke-width="1"/><line x1="569.79" y1="455.5" x2="569.79" y2="457.5" stroke="#a8a8a8" stroke-width="1"/><line x1="576.39" y1="455.5" x2="576.39" y2="457.5" stroke="#a8a8a8" stroke-width="1"/><line x1="583.0" y1="455.5" x2="583.0" y2="457.5" stroke="#a8a8a8" stroke-width="1"/><line x1="589.6" y1="455.5" x2="589.6" y2="457.5" stroke="#a8a8a8" stroke-width="1"/><line x1="596.21" y1="455.5" x2="596.21" y2="457.5" stroke="#a8a8a8" stroke-width="1"/><line x1="602.82" y1="455.5" x2="602.82" y2="457.5" stroke="#a8a8a8" stroke-width="1"/><line x1="609.42" y1="455.5" x2="609.42" y2="457.5" stroke="#a8a8a8" stroke-width="1"/><line x1="616.03" y1="455.5" x2="616.03" y2="457.5" stroke="#a8a8a8" stroke-width="1"/><line x1="622.63" y1="455.5" x2="622.63" y2="457.5" stroke="#a8a8a8" stroke-width="1"/><line x1="629.24" y1="455.5" x2="629.24" y2="457.5" stroke="#a8a8a8" stroke-width="1"/><line x1="635.85" y1="455.5" x2="635.85" y2="457.5" stroke="#a8a8a8" stroke-width="1"/><line x1="642.45" y1="455.5" x2="642.45" y2="457.5" stroke="#a8a8a8" stroke-width="1"/><line x1="649.06" y1="455.5" x2="649.06" y2="457.5" stroke="#a8a8a8" stroke-width="1"/><line x1="655.66" y1="455.5" x2="655.66" y2="457.5" stroke="#a8a8a8" stroke-width="1"/><line x1="662.27" y1="455.5" x2="662.27" y2="457.5" stroke="#a8a8a8" stroke-width="1"/><line x1="668.88" y1="455.5" x2="668.88" y2="457.5" stroke="#a8a8a8" stroke-width="1"/><line x1="675.48" y1="455.5" x2="675.48" y2="457.5" stroke="#a8a8a8" stroke-width="1"/><line x1="682.09" y1="455.5" x2="682.09" y2="457.5" stroke="#a8a8a8" stroke-width="1"/><line x1="688.69" y1="455.5" x2="688.69" y2="457.5" stroke="#a8a8a8" stroke-width="1"/><line x1="695.3" y1="455.5" x2="695.3" y2="457.5" stroke="#a8a8a8" stroke-width="1"/><line x1="701.91" y1="455.5" x2="701.91" y2="457.5" stroke="#a8a8a8" stroke-width="1"/><line x1="708.51" y1="455.5" x2="708.51" y2="457.5" stroke="#a8a8a8" stroke-width="1"/><line x1="715.12" y1="455.5" x2="715.12" y2="457.5" stroke="#a8a8a8" stroke-width="1"/><line x1="721.72" y1="455.5" x2="721.72" y2="457.5" stroke="#a8a8a8" stroke-width="1"/><line x1="728.33" y1="455.5" x2="728.33" y2="457.5" stroke="#a8a8a8" stroke-width="1"/><line x1="734.94" y1="455.5" x2="734.94" y2="457.5" stroke="#a8a8a8" stroke-width="1"/><line x1="741.54" y1="455.5" x2="741.54" y2="457.5" stroke="#a8a8a8" stroke-width="1"/><line x1="748.15" y1="455.5" x2="748.15" y2="457.5" stroke="#a8a8a8" stroke-width="1"/><line x1="754.75" y1="455.5" x2="754.75" y2="457.5" stroke="#a8a8a8" stroke-width="1"/><line x1="761.36" y1="455.5" x2="761.36" y2="457.5" stroke="#a8a8a8" stroke-width="1"/><line x1="767.97" y1="455.5" x2="767.97" y2="457.5" stroke="#a8a8a8" stroke-width="1"/><line x1="774.57" y1="455.5" x2="774.57" y2="457.5" stroke="#a8a8a8" stroke-width="1"/><line x1="781.18" y1="455.5" x2="781.18" y2="457.5" stroke="#a8a8a8" stroke-width="1"/><line x1="787.78" y1="455.5" x2="787.78" y2="457.5" stroke="#a8a8a8" stroke-width="1"/><line x1="794.39" y1="455.5" x2="794.39" y2="457.5" stroke="#a8a8a8" stroke-width="1"/><line x1="801.0" y1="455.5" x2="801.0" y2="457.5" stroke="#a8a8a8" stroke-width="1"/><line x1="807.6" y1="455.5" x2="807.6" y2="457.5" stroke="#a8a8a8" stroke-width="1"/><line x1="814.21" y1="455.5" x2="814.21" y2="457.5" stroke="#a8a8a8" stroke-width="1"/><line x1="820.81" y1="455.5" x2="820.81" y2="457.5" stroke="#a8a8a8" stroke-width="1"/><line x1="827.42" y1="455.5" x2="827.42" y2="457.5" stroke="#a8a8a8" stroke-width="1"/><line x1="834.03" y1="455.5" x2="834.03" y2="457.5" stroke="#a8a8a8" stroke-width="1"/><line x1="840.63" y1="455.5" x2="840.63" y2="457.5" stroke="#a8a8a8" stroke-width="1"/><line x1="847.24" y1="455.5" x2="847.24" y2="457.5" stroke="#a8a8a8" stroke-width="1"/><line x1="853.84" y1="455.5" x2="853.84" y2="457.5" stroke="#a8a8a8" stroke-width="1"/><line x1="860.45" y1="455.5" x2="860.45" y2="457.5" stroke="#a8a8a8" stroke-width="1"/><line x1="867.06" y1="455.5" x2="867.06" y2="457.5" stroke="#a8a8a8" stroke-width="1"/><line x1="873.66" y1="455.5" x2="873.66" y2="457.5" stroke="#a8a8a8" stroke-width="1"/><line x1="880.27" y1="455.5" x2="880.27" y2="457.5" stroke="#a8a8a8" stroke-width="1"/><line x1="886.87" y1="455.5" x2="886.87" y2="457.5" stroke="#a8a8a8" stroke-width="1"/><line x1="893.48" y1="455.5" x2="893.48" y2="457.5" stroke="#a8a8a8" stroke-width="1"/><line x1="900.09" y1="455.5" x2="900.09" y2="457.5" stroke="#a8a8a8" stroke-width="1"/><line x1="906.69" y1="455.5" x2="906.69" y2="457.5" stroke="#a8a8a8" stroke-width="1"/><line x1="913.3" y1="455.5" x2="913.3" y2="457.5" stroke="#a8a8a8" stroke-width="1"/><line x1="919.9" y1="455.5" x2="919.9" y2="457.5" stroke="#a8a8a8" stroke-width="1"/><line x1="926.51" y1="455.5" x2="926.51" y2="457.5" stroke="#a8a8a8" stroke-width="1"/><line x1="933.12" y1="455.5" x2="933.12" y2="457.5" stroke="#a8a8a8" stroke-width="1"/><line x1="939.72" y1="455.5" x2="939.72" y2="457.5" stroke="#a8a8a8" stroke-width="1"/><line x1="946.33" y1="455.5" x2="946.33" y2="457.5" stroke="#a8a8a8" stroke-width="1"/><text class="ar" x="74.6" y="470.2" font-size="14.6" font-weight="bold" text-anchor="middle" fill="#000" stroke="#000" stroke-width="0.25">May</text><text class="ar" x="93.0" y="470.2" font-size="13.4" text-anchor="middle" fill="#000" stroke="#000" stroke-width="0.25">6</text><text class="ar" x="126.0" y="470.2" font-size="13.4" text-anchor="middle" fill="#000" stroke="#000" stroke-width="0.25">13</text><text class="ar" x="159.0" y="470.2" font-size="13.4" text-anchor="middle" fill="#000" stroke="#000" stroke-width="0.25">20</text><text class="ar" x="192.0" y="470.2" font-size="13.4" text-anchor="middle" fill="#000" stroke="#000" stroke-width="0.25">28</text><text class="ar" x="220.0" y="470.2" font-size="14.6" font-weight="bold" text-anchor="middle" fill="#000" stroke="#000" stroke-width="0.25">Jun</text><text class="ar" x="251.5" y="470.2" font-size="13.4" text-anchor="middle" fill="#000" stroke="#000" stroke-width="0.25">10</text><text class="ar" x="284.5" y="470.2" font-size="13.4" text-anchor="middle" fill="#000" stroke="#000" stroke-width="0.25">17</text><text class="ar" x="311.0" y="470.2" font-size="13.4" text-anchor="middle" fill="#000" stroke="#000" stroke-width="0.25">24</text><text class="ar" x="345.5" y="470.2" font-size="14.6" font-weight="bold" text-anchor="middle" fill="#000" stroke="#000" stroke-width="0.25">Jul</text><text class="ar" x="370.4" y="470.2" font-size="13.4" text-anchor="middle" fill="#000" stroke="#000" stroke-width="0.25">8</text><text class="ar" x="403.4" y="470.2" font-size="13.4" text-anchor="middle" fill="#000" stroke="#000" stroke-width="0.25">15</text><text class="ar" x="436.5" y="470.2" font-size="13.4" text-anchor="middle" fill="#000" stroke="#000" stroke-width="0.25">22</text><text class="ar" x="469.5" y="470.2" font-size="13.4" text-anchor="middle" fill="#000" stroke="#000" stroke-width="0.25">29</text><text class="ar" x="490.8" y="470.2" font-size="14.6" font-weight="bold" text-anchor="middle" fill="#000" stroke="#000" stroke-width="0.25">Aug</text><text class="ar" x="535.6" y="470.2" font-size="13.4" text-anchor="middle" fill="#000" stroke="#000" stroke-width="0.25">12</text><text class="ar" x="568.6" y="470.2" font-size="13.4" text-anchor="middle" fill="#000" stroke="#000" stroke-width="0.25">19</text><text class="ar" x="601.6" y="470.2" font-size="13.4" text-anchor="middle" fill="#000" stroke="#000" stroke-width="0.25">26</text><text class="ar" x="636.1" y="470.2" font-size="14.6" font-weight="bold" text-anchor="middle" fill="#000" stroke="#000" stroke-width="0.25">Sep</text><text class="ar" x="661.1" y="470.2" font-size="13.4" text-anchor="middle" fill="#000" stroke="#000" stroke-width="0.25">9</text><text class="ar" x="694.1" y="470.2" font-size="13.4" text-anchor="middle" fill="#000" stroke="#000" stroke-width="0.25">16</text><text class="ar" x="727.1" y="470.2" font-size="13.4" text-anchor="middle" fill="#000" stroke="#000" stroke-width="0.25">23</text><text class="ar" x="768.3" y="470.2" font-size="14.6" font-weight="bold" text-anchor="middle" fill="#000" stroke="#000" stroke-width="0.25">Oct</text><text class="ar" x="793.2" y="470.2" font-size="13.4" text-anchor="middle" fill="#000" stroke="#000" stroke-width="0.25">7</text><text class="ar" x="826.2" y="470.2" font-size="13.4" text-anchor="middle" fill="#000" stroke="#000" stroke-width="0.25">14</text><text class="ar" x="859.2" y="470.2" font-size="13.4" text-anchor="middle" fill="#000" stroke="#000" stroke-width="0.25">21</text><text class="ar" x="892.3" y="470.2" font-size="13.4" text-anchor="middle" fill="#000" stroke="#000" stroke-width="0.25">28</text><text class="ar" x="920.2" y="470.2" font-size="14.6" font-weight="bold" text-anchor="middle" fill="#000" stroke="#000" stroke-width="0.25">Nov</text>
<line x1="34.7" y1="913.5" x2="34.7" y2="915.5" stroke="#a8a8a8" stroke-width="1"/><line x1="41.31" y1="913.5" x2="41.31" y2="915.5" stroke="#a8a8a8" stroke-width="1"/><line x1="47.91" y1="913.5" x2="47.91" y2="915.5" stroke="#a8a8a8" stroke-width="1"/><line x1="54.52" y1="913.5" x2="54.52" y2="915.5" stroke="#a8a8a8" stroke-width="1"/><line x1="61.12" y1="913.5" x2="61.12" y2="915.5" stroke="#a8a8a8" stroke-width="1"/><line x1="67.73" y1="913.5" x2="67.73" y2="915.5" stroke="#a8a8a8" stroke-width="1"/><line x1="74.34" y1="913.5" x2="74.34" y2="915.5" stroke="#a8a8a8" stroke-width="1"/><line x1="80.94" y1="913.5" x2="80.94" y2="915.5" stroke="#a8a8a8" stroke-width="1"/><line x1="87.55" y1="913.5" x2="87.55" y2="915.5" stroke="#a8a8a8" stroke-width="1"/><line x1="94.15" y1="913.5" x2="94.15" y2="915.5" stroke="#a8a8a8" stroke-width="1"/><line x1="100.76" y1="913.5" x2="100.76" y2="915.5" stroke="#a8a8a8" stroke-width="1"/><line x1="107.37" y1="913.5" x2="107.37" y2="915.5" stroke="#a8a8a8" stroke-width="1"/><line x1="113.97" y1="913.5" x2="113.97" y2="915.5" stroke="#a8a8a8" stroke-width="1"/><line x1="120.58" y1="913.5" x2="120.58" y2="915.5" stroke="#a8a8a8" stroke-width="1"/><line x1="127.18" y1="913.5" x2="127.18" y2="915.5" stroke="#a8a8a8" stroke-width="1"/><line x1="133.79" y1="913.5" x2="133.79" y2="915.5" stroke="#a8a8a8" stroke-width="1"/><line x1="140.4" y1="913.5" x2="140.4" y2="915.5" stroke="#a8a8a8" stroke-width="1"/><line x1="147.0" y1="913.5" x2="147.0" y2="915.5" stroke="#a8a8a8" stroke-width="1"/><line x1="153.61" y1="913.5" x2="153.61" y2="915.5" stroke="#a8a8a8" stroke-width="1"/><line x1="160.21" y1="913.5" x2="160.21" y2="915.5" stroke="#a8a8a8" stroke-width="1"/><line x1="166.82" y1="913.5" x2="166.82" y2="915.5" stroke="#a8a8a8" stroke-width="1"/><line x1="173.43" y1="913.5" x2="173.43" y2="915.5" stroke="#a8a8a8" stroke-width="1"/><line x1="180.03" y1="913.5" x2="180.03" y2="915.5" stroke="#a8a8a8" stroke-width="1"/><line x1="186.64" y1="913.5" x2="186.64" y2="915.5" stroke="#a8a8a8" stroke-width="1"/><line x1="193.24" y1="913.5" x2="193.24" y2="915.5" stroke="#a8a8a8" stroke-width="1"/><line x1="199.85" y1="913.5" x2="199.85" y2="915.5" stroke="#a8a8a8" stroke-width="1"/><line x1="206.46" y1="913.5" x2="206.46" y2="915.5" stroke="#a8a8a8" stroke-width="1"/><line x1="213.06" y1="913.5" x2="213.06" y2="915.5" stroke="#a8a8a8" stroke-width="1"/><line x1="219.67" y1="913.5" x2="219.67" y2="915.5" stroke="#a8a8a8" stroke-width="1"/><line x1="226.27" y1="913.5" x2="226.27" y2="915.5" stroke="#a8a8a8" stroke-width="1"/><line x1="232.88" y1="913.5" x2="232.88" y2="915.5" stroke="#a8a8a8" stroke-width="1"/><line x1="239.49" y1="913.5" x2="239.49" y2="915.5" stroke="#a8a8a8" stroke-width="1"/><line x1="246.09" y1="913.5" x2="246.09" y2="915.5" stroke="#a8a8a8" stroke-width="1"/><line x1="252.7" y1="913.5" x2="252.7" y2="915.5" stroke="#a8a8a8" stroke-width="1"/><line x1="259.3" y1="913.5" x2="259.3" y2="915.5" stroke="#a8a8a8" stroke-width="1"/><line x1="265.91" y1="913.5" x2="265.91" y2="915.5" stroke="#a8a8a8" stroke-width="1"/><line x1="272.52" y1="913.5" x2="272.52" y2="915.5" stroke="#a8a8a8" stroke-width="1"/><line x1="279.12" y1="913.5" x2="279.12" y2="915.5" stroke="#a8a8a8" stroke-width="1"/><line x1="285.73" y1="913.5" x2="285.73" y2="915.5" stroke="#a8a8a8" stroke-width="1"/><line x1="292.33" y1="913.5" x2="292.33" y2="915.5" stroke="#a8a8a8" stroke-width="1"/><line x1="298.94" y1="913.5" x2="298.94" y2="915.5" stroke="#a8a8a8" stroke-width="1"/><line x1="305.55" y1="913.5" x2="305.55" y2="915.5" stroke="#a8a8a8" stroke-width="1"/><line x1="312.15" y1="913.5" x2="312.15" y2="915.5" stroke="#a8a8a8" stroke-width="1"/><line x1="318.76" y1="913.5" x2="318.76" y2="915.5" stroke="#a8a8a8" stroke-width="1"/><line x1="325.36" y1="913.5" x2="325.36" y2="915.5" stroke="#a8a8a8" stroke-width="1"/><line x1="331.97" y1="913.5" x2="331.97" y2="915.5" stroke="#a8a8a8" stroke-width="1"/><line x1="338.58" y1="913.5" x2="338.58" y2="915.5" stroke="#a8a8a8" stroke-width="1"/><line x1="345.18" y1="913.5" x2="345.18" y2="915.5" stroke="#a8a8a8" stroke-width="1"/><line x1="351.79" y1="913.5" x2="351.79" y2="915.5" stroke="#a8a8a8" stroke-width="1"/><line x1="358.39" y1="913.5" x2="358.39" y2="915.5" stroke="#a8a8a8" stroke-width="1"/><line x1="365.0" y1="913.5" x2="365.0" y2="915.5" stroke="#a8a8a8" stroke-width="1"/><line x1="371.61" y1="913.5" x2="371.61" y2="915.5" stroke="#a8a8a8" stroke-width="1"/><line x1="378.21" y1="913.5" x2="378.21" y2="915.5" stroke="#a8a8a8" stroke-width="1"/><line x1="384.82" y1="913.5" x2="384.82" y2="915.5" stroke="#a8a8a8" stroke-width="1"/><line x1="391.42" y1="913.5" x2="391.42" y2="915.5" stroke="#a8a8a8" stroke-width="1"/><line x1="398.03" y1="913.5" x2="398.03" y2="915.5" stroke="#a8a8a8" stroke-width="1"/><line x1="404.64" y1="913.5" x2="404.64" y2="915.5" stroke="#a8a8a8" stroke-width="1"/><line x1="411.24" y1="913.5" x2="411.24" y2="915.5" stroke="#a8a8a8" stroke-width="1"/><line x1="417.85" y1="913.5" x2="417.85" y2="915.5" stroke="#a8a8a8" stroke-width="1"/><line x1="424.45" y1="913.5" x2="424.45" y2="915.5" stroke="#a8a8a8" stroke-width="1"/><line x1="431.06" y1="913.5" x2="431.06" y2="915.5" stroke="#a8a8a8" stroke-width="1"/><line x1="437.67" y1="913.5" x2="437.67" y2="915.5" stroke="#a8a8a8" stroke-width="1"/><line x1="444.27" y1="913.5" x2="444.27" y2="915.5" stroke="#a8a8a8" stroke-width="1"/><line x1="450.88" y1="913.5" x2="450.88" y2="915.5" stroke="#a8a8a8" stroke-width="1"/><line x1="457.48" y1="913.5" x2="457.48" y2="915.5" stroke="#a8a8a8" stroke-width="1"/><line x1="464.09" y1="913.5" x2="464.09" y2="915.5" stroke="#a8a8a8" stroke-width="1"/><line x1="470.7" y1="913.5" x2="470.7" y2="915.5" stroke="#a8a8a8" stroke-width="1"/><line x1="477.3" y1="913.5" x2="477.3" y2="915.5" stroke="#a8a8a8" stroke-width="1"/><line x1="483.91" y1="913.5" x2="483.91" y2="915.5" stroke="#a8a8a8" stroke-width="1"/><line x1="490.51" y1="913.5" x2="490.51" y2="915.5" stroke="#a8a8a8" stroke-width="1"/><line x1="497.12" y1="913.5" x2="497.12" y2="915.5" stroke="#a8a8a8" stroke-width="1"/><line x1="503.73" y1="913.5" x2="503.73" y2="915.5" stroke="#a8a8a8" stroke-width="1"/><line x1="510.33" y1="913.5" x2="510.33" y2="915.5" stroke="#a8a8a8" stroke-width="1"/><line x1="516.94" y1="913.5" x2="516.94" y2="915.5" stroke="#a8a8a8" stroke-width="1"/><line x1="523.54" y1="913.5" x2="523.54" y2="915.5" stroke="#a8a8a8" stroke-width="1"/><line x1="530.15" y1="913.5" x2="530.15" y2="915.5" stroke="#a8a8a8" stroke-width="1"/><line x1="536.76" y1="913.5" x2="536.76" y2="915.5" stroke="#a8a8a8" stroke-width="1"/><line x1="543.36" y1="913.5" x2="543.36" y2="915.5" stroke="#a8a8a8" stroke-width="1"/><line x1="549.97" y1="913.5" x2="549.97" y2="915.5" stroke="#a8a8a8" stroke-width="1"/><line x1="556.57" y1="913.5" x2="556.57" y2="915.5" stroke="#a8a8a8" stroke-width="1"/><line x1="563.18" y1="913.5" x2="563.18" y2="915.5" stroke="#a8a8a8" stroke-width="1"/><line x1="569.79" y1="913.5" x2="569.79" y2="915.5" stroke="#a8a8a8" stroke-width="1"/><line x1="576.39" y1="913.5" x2="576.39" y2="915.5" stroke="#a8a8a8" stroke-width="1"/><line x1="583.0" y1="913.5" x2="583.0" y2="915.5" stroke="#a8a8a8" stroke-width="1"/><line x1="589.6" y1="913.5" x2="589.6" y2="915.5" stroke="#a8a8a8" stroke-width="1"/><line x1="596.21" y1="913.5" x2="596.21" y2="915.5" stroke="#a8a8a8" stroke-width="1"/><line x1="602.82" y1="913.5" x2="602.82" y2="915.5" stroke="#a8a8a8" stroke-width="1"/><line x1="609.42" y1="913.5" x2="609.42" y2="915.5" stroke="#a8a8a8" stroke-width="1"/><line x1="616.03" y1="913.5" x2="616.03" y2="915.5" stroke="#a8a8a8" stroke-width="1"/><line x1="622.63" y1="913.5" x2="622.63" y2="915.5" stroke="#a8a8a8" stroke-width="1"/><line x1="629.24" y1="913.5" x2="629.24" y2="915.5" stroke="#a8a8a8" stroke-width="1"/><line x1="635.85" y1="913.5" x2="635.85" y2="915.5" stroke="#a8a8a8" stroke-width="1"/><line x1="642.45" y1="913.5" x2="642.45" y2="915.5" stroke="#a8a8a8" stroke-width="1"/><line x1="649.06" y1="913.5" x2="649.06" y2="915.5" stroke="#a8a8a8" stroke-width="1"/><line x1="655.66" y1="913.5" x2="655.66" y2="915.5" stroke="#a8a8a8" stroke-width="1"/><line x1="662.27" y1="913.5" x2="662.27" y2="915.5" stroke="#a8a8a8" stroke-width="1"/><line x1="668.88" y1="913.5" x2="668.88" y2="915.5" stroke="#a8a8a8" stroke-width="1"/><line x1="675.48" y1="913.5" x2="675.48" y2="915.5" stroke="#a8a8a8" stroke-width="1"/><line x1="682.09" y1="913.5" x2="682.09" y2="915.5" stroke="#a8a8a8" stroke-width="1"/><line x1="688.69" y1="913.5" x2="688.69" y2="915.5" stroke="#a8a8a8" stroke-width="1"/><line x1="695.3" y1="913.5" x2="695.3" y2="915.5" stroke="#a8a8a8" stroke-width="1"/><line x1="701.91" y1="913.5" x2="701.91" y2="915.5" stroke="#a8a8a8" stroke-width="1"/><line x1="708.51" y1="913.5" x2="708.51" y2="915.5" stroke="#a8a8a8" stroke-width="1"/><line x1="715.12" y1="913.5" x2="715.12" y2="915.5" stroke="#a8a8a8" stroke-width="1"/><line x1="721.72" y1="913.5" x2="721.72" y2="915.5" stroke="#a8a8a8" stroke-width="1"/><line x1="728.33" y1="913.5" x2="728.33" y2="915.5" stroke="#a8a8a8" stroke-width="1"/><line x1="734.94" y1="913.5" x2="734.94" y2="915.5" stroke="#a8a8a8" stroke-width="1"/><line x1="741.54" y1="913.5" x2="741.54" y2="915.5" stroke="#a8a8a8" stroke-width="1"/><line x1="748.15" y1="913.5" x2="748.15" y2="915.5" stroke="#a8a8a8" stroke-width="1"/><line x1="754.75" y1="913.5" x2="754.75" y2="915.5" stroke="#a8a8a8" stroke-width="1"/><line x1="761.36" y1="913.5" x2="761.36" y2="915.5" stroke="#a8a8a8" stroke-width="1"/><line x1="767.97" y1="913.5" x2="767.97" y2="915.5" stroke="#a8a8a8" stroke-width="1"/><line x1="774.57" y1="913.5" x2="774.57" y2="915.5" stroke="#a8a8a8" stroke-width="1"/><line x1="781.18" y1="913.5" x2="781.18" y2="915.5" stroke="#a8a8a8" stroke-width="1"/><line x1="787.78" y1="913.5" x2="787.78" y2="915.5" stroke="#a8a8a8" stroke-width="1"/><line x1="794.39" y1="913.5" x2="794.39" y2="915.5" stroke="#a8a8a8" stroke-width="1"/><line x1="801.0" y1="913.5" x2="801.0" y2="915.5" stroke="#a8a8a8" stroke-width="1"/><line x1="807.6" y1="913.5" x2="807.6" y2="915.5" stroke="#a8a8a8" stroke-width="1"/><line x1="814.21" y1="913.5" x2="814.21" y2="915.5" stroke="#a8a8a8" stroke-width="1"/><line x1="820.81" y1="913.5" x2="820.81" y2="915.5" stroke="#a8a8a8" stroke-width="1"/><line x1="827.42" y1="913.5" x2="827.42" y2="915.5" stroke="#a8a8a8" stroke-width="1"/><line x1="834.03" y1="913.5" x2="834.03" y2="915.5" stroke="#a8a8a8" stroke-width="1"/><line x1="840.63" y1="913.5" x2="840.63" y2="915.5" stroke="#a8a8a8" stroke-width="1"/><line x1="847.24" y1="913.5" x2="847.24" y2="915.5" stroke="#a8a8a8" stroke-width="1"/><line x1="853.84" y1="913.5" x2="853.84" y2="915.5" stroke="#a8a8a8" stroke-width="1"/><line x1="860.45" y1="913.5" x2="860.45" y2="915.5" stroke="#a8a8a8" stroke-width="1"/><line x1="867.06" y1="913.5" x2="867.06" y2="915.5" stroke="#a8a8a8" stroke-width="1"/><line x1="873.66" y1="913.5" x2="873.66" y2="915.5" stroke="#a8a8a8" stroke-width="1"/><line x1="880.27" y1="913.5" x2="880.27" y2="915.5" stroke="#a8a8a8" stroke-width="1"/><line x1="886.87" y1="913.5" x2="886.87" y2="915.5" stroke="#a8a8a8" stroke-width="1"/><line x1="893.48" y1="913.5" x2="893.48" y2="915.5" stroke="#a8a8a8" stroke-width="1"/><line x1="900.09" y1="913.5" x2="900.09" y2="915.5" stroke="#a8a8a8" stroke-width="1"/><line x1="906.69" y1="913.5" x2="906.69" y2="915.5" stroke="#a8a8a8" stroke-width="1"/><line x1="913.3" y1="913.5" x2="913.3" y2="915.5" stroke="#a8a8a8" stroke-width="1"/><line x1="919.9" y1="913.5" x2="919.9" y2="915.5" stroke="#a8a8a8" stroke-width="1"/><line x1="926.51" y1="913.5" x2="926.51" y2="915.5" stroke="#a8a8a8" stroke-width="1"/><line x1="933.12" y1="913.5" x2="933.12" y2="915.5" stroke="#a8a8a8" stroke-width="1"/><line x1="939.72" y1="913.5" x2="939.72" y2="915.5" stroke="#a8a8a8" stroke-width="1"/><line x1="946.33" y1="913.5" x2="946.33" y2="915.5" stroke="#a8a8a8" stroke-width="1"/><text class="ar" x="74.6" y="926.5" font-size="14.6" font-weight="bold" text-anchor="middle" fill="#000" stroke="#000" stroke-width="0.25">May</text><text class="ar" x="93.0" y="926.5" font-size="13.4" text-anchor="middle" fill="#000" stroke="#000" stroke-width="0.25">6</text><text class="ar" x="126.0" y="926.5" font-size="13.4" text-anchor="middle" fill="#000" stroke="#000" stroke-width="0.25">13</text><text class="ar" x="159.0" y="926.5" font-size="13.4" text-anchor="middle" fill="#000" stroke="#000" stroke-width="0.25">20</text><text class="ar" x="192.0" y="926.5" font-size="13.4" text-anchor="middle" fill="#000" stroke="#000" stroke-width="0.25">28</text><text class="ar" x="220.0" y="926.5" font-size="14.6" font-weight="bold" text-anchor="middle" fill="#000" stroke="#000" stroke-width="0.25">Jun</text><text class="ar" x="251.5" y="926.5" font-size="13.4" text-anchor="middle" fill="#000" stroke="#000" stroke-width="0.25">10</text><text class="ar" x="284.5" y="926.5" font-size="13.4" text-anchor="middle" fill="#000" stroke="#000" stroke-width="0.25">17</text><text class="ar" x="311.0" y="926.5" font-size="13.4" text-anchor="middle" fill="#000" stroke="#000" stroke-width="0.25">24</text><text class="ar" x="345.5" y="926.5" font-size="14.6" font-weight="bold" text-anchor="middle" fill="#000" stroke="#000" stroke-width="0.25">Jul</text><text class="ar" x="370.4" y="926.5" font-size="13.4" text-anchor="middle" fill="#000" stroke="#000" stroke-width="0.25">8</text><text class="ar" x="403.4" y="926.5" font-size="13.4" text-anchor="middle" fill="#000" stroke="#000" stroke-width="0.25">15</text><text class="ar" x="436.5" y="926.5" font-size="13.4" text-anchor="middle" fill="#000" stroke="#000" stroke-width="0.25">22</text><text class="ar" x="469.5" y="926.5" font-size="13.4" text-anchor="middle" fill="#000" stroke="#000" stroke-width="0.25">29</text><text class="ar" x="490.8" y="926.5" font-size="14.6" font-weight="bold" text-anchor="middle" fill="#000" stroke="#000" stroke-width="0.25">Aug</text><text class="ar" x="535.6" y="926.5" font-size="13.4" text-anchor="middle" fill="#000" stroke="#000" stroke-width="0.25">12</text><text class="ar" x="568.6" y="926.5" font-size="13.4" text-anchor="middle" fill="#000" stroke="#000" stroke-width="0.25">19</text><text class="ar" x="601.6" y="926.5" font-size="13.4" text-anchor="middle" fill="#000" stroke="#000" stroke-width="0.25">26</text><text class="ar" x="636.1" y="926.5" font-size="14.6" font-weight="bold" text-anchor="middle" fill="#000" stroke="#000" stroke-width="0.25">Sep</text><text class="ar" x="661.1" y="926.5" font-size="13.4" text-anchor="middle" fill="#000" stroke="#000" stroke-width="0.25">9</text><text class="ar" x="694.1" y="926.5" font-size="13.4" text-anchor="middle" fill="#000" stroke="#000" stroke-width="0.25">16</text><text class="ar" x="727.1" y="926.5" font-size="13.4" text-anchor="middle" fill="#000" stroke="#000" stroke-width="0.25">23</text><text class="ar" x="768.3" y="926.5" font-size="14.6" font-weight="bold" text-anchor="middle" fill="#000" stroke="#000" stroke-width="0.25">Oct</text><text class="ar" x="793.2" y="926.5" font-size="13.4" text-anchor="middle" fill="#000" stroke="#000" stroke-width="0.25">7</text><text class="ar" x="826.2" y="926.5" font-size="13.4" text-anchor="middle" fill="#000" stroke="#000" stroke-width="0.25">14</text><text class="ar" x="859.2" y="926.5" font-size="13.4" text-anchor="middle" fill="#000" stroke="#000" stroke-width="0.25">21</text><text class="ar" x="892.3" y="926.5" font-size="13.4" text-anchor="middle" fill="#000" stroke="#000" stroke-width="0.25">28</text><text class="ar" x="920.2" y="926.5" font-size="14.6" font-weight="bold" text-anchor="middle" fill="#000" stroke="#000" stroke-width="0.25">Nov</text>
<line x1="61.42" y1="930.5" x2="61.42" y2="932" stroke="#bbb" stroke-width="1"/>
<line x1="74.64" y1="930.5" x2="74.64" y2="932" stroke="#bbb" stroke-width="1"/>
<line x1="94.45" y1="930.5" x2="94.45" y2="932" stroke="#bbb" stroke-width="1"/>
<line x1="127.48" y1="930.5" x2="127.48" y2="932" stroke="#bbb" stroke-width="1"/>
<line x1="160.51" y1="930.5" x2="160.51" y2="932" stroke="#bbb" stroke-width="1"/>
<line x1="193.54" y1="930.5" x2="193.54" y2="932" stroke="#bbb" stroke-width="1"/>
<line x1="219.97" y1="930.5" x2="219.97" y2="932" stroke="#bbb" stroke-width="1"/>
<line x1="253.00" y1="930.5" x2="253.00" y2="932" stroke="#bbb" stroke-width="1"/>
<line x1="286.03" y1="930.5" x2="286.03" y2="932" stroke="#bbb" stroke-width="1"/>
<line x1="312.45" y1="930.5" x2="312.45" y2="932" stroke="#bbb" stroke-width="1"/>
<line x1="345.48" y1="930.5" x2="345.48" y2="932" stroke="#bbb" stroke-width="1"/>
<line x1="371.91" y1="930.5" x2="371.91" y2="932" stroke="#bbb" stroke-width="1"/>
<line x1="404.94" y1="930.5" x2="404.94" y2="932" stroke="#bbb" stroke-width="1"/>
<line x1="437.97" y1="930.5" x2="437.97" y2="932" stroke="#bbb" stroke-width="1"/>
<line x1="471.00" y1="930.5" x2="471.00" y2="932" stroke="#bbb" stroke-width="1"/>
<line x1="490.81" y1="930.5" x2="490.81" y2="932" stroke="#bbb" stroke-width="1"/>
<line x1="504.03" y1="930.5" x2="504.03" y2="932" stroke="#bbb" stroke-width="1"/>
<line x1="537.06" y1="930.5" x2="537.06" y2="932" stroke="#bbb" stroke-width="1"/>
<line x1="570.09" y1="930.5" x2="570.09" y2="932" stroke="#bbb" stroke-width="1"/>
<line x1="603.12" y1="930.5" x2="603.12" y2="932" stroke="#bbb" stroke-width="1"/>
<line x1="636.15" y1="930.5" x2="636.15" y2="932" stroke="#bbb" stroke-width="1"/>
<line x1="662.57" y1="930.5" x2="662.57" y2="932" stroke="#bbb" stroke-width="1"/>
<line x1="695.60" y1="930.5" x2="695.60" y2="932" stroke="#bbb" stroke-width="1"/>
<line x1="728.63" y1="930.5" x2="728.63" y2="932" stroke="#bbb" stroke-width="1"/>
<line x1="761.66" y1="930.5" x2="761.66" y2="932" stroke="#bbb" stroke-width="1"/>
<line x1="768.27" y1="930.5" x2="768.27" y2="932" stroke="#bbb" stroke-width="1"/>
<line x1="794.69" y1="930.5" x2="794.69" y2="932" stroke="#bbb" stroke-width="1"/>
<line x1="827.72" y1="930.5" x2="827.72" y2="932" stroke="#bbb" stroke-width="1"/>
<line x1="860.75" y1="930.5" x2="860.75" y2="932" stroke="#bbb" stroke-width="1"/>
<line x1="893.78" y1="930.5" x2="893.78" y2="932" stroke="#bbb" stroke-width="1"/>
<line x1="920.20" y1="930.5" x2="920.20" y2="932" stroke="#bbb" stroke-width="1"/>
<line x1="926.81" y1="930.5" x2="926.81" y2="932" stroke="#bbb" stroke-width="1"/>
<line x1="29.5" y1="488.10" x2="955.5" y2="488.10" stroke="rgba(0,0,0,0.11)" stroke-width="1"/><line x1="29.5" y1="516.10" x2="955.5" y2="516.10" stroke="rgba(0,0,0,0.11)" stroke-width="1"/><line x1="29.5" y1="544.10" x2="955.5" y2="544.10" stroke="rgba(0,0,0,0.11)" stroke-width="1"/><line x1="29.5" y1="572.10" x2="955.5" y2="572.10" stroke="rgba(0,0,0,0.11)" stroke-width="1"/><line x1="29.5" y1="600.10" x2="955.5" y2="600.10" stroke="rgba(0,0,0,0.11)" stroke-width="1"/><line x1="61.42" y1="474.0" x2="61.42" y2="620.5" stroke="rgba(0,0,0,0.11)" stroke-width="1"/><line x1="74.64" y1="474.0" x2="74.64" y2="620.5" stroke="rgba(0,0,0,0.17)" stroke-width="1"/><line x1="94.45" y1="474.0" x2="94.45" y2="620.5" stroke="rgba(0,0,0,0.11)" stroke-width="1"/><line x1="127.48" y1="474.0" x2="127.48" y2="620.5" stroke="rgba(0,0,0,0.11)" stroke-width="1"/><line x1="160.51" y1="474.0" x2="160.51" y2="620.5" stroke="rgba(0,0,0,0.11)" stroke-width="1"/><line x1="193.54" y1="474.0" x2="193.54" y2="620.5" stroke="rgba(0,0,0,0.11)" stroke-width="1"/><line x1="219.97" y1="474.0" x2="219.97" y2="620.5" stroke="rgba(0,0,0,0.17)" stroke-width="1"/><line x1="253.00" y1="474.0" x2="253.00" y2="620.5" stroke="rgba(0,0,0,0.11)" stroke-width="1"/><line x1="286.03" y1="474.0" x2="286.03" y2="620.5" stroke="rgba(0,0,0,0.11)" stroke-width="1"/><line x1="312.45" y1="474.0" x2="312.45" y2="620.5" stroke="rgba(0,0,0,0.11)" stroke-width="1"/><line x1="345.48" y1="474.0" x2="345.48" y2="620.5" stroke="rgba(0,0,0,0.17)" stroke-width="1"/><line x1="371.91" y1="474.0" x2="371.91" y2="620.5" stroke="rgba(0,0,0,0.11)" stroke-width="1"/><line x1="404.94" y1="474.0" x2="404.94" y2="620.5" stroke="rgba(0,0,0,0.11)" stroke-width="1"/><line x1="437.97" y1="474.0" x2="437.97" y2="620.5" stroke="rgba(0,0,0,0.11)" stroke-width="1"/><line x1="471.00" y1="474.0" x2="471.00" y2="620.5" stroke="rgba(0,0,0,0.11)" stroke-width="1"/><line x1="490.81" y1="474.0" x2="490.81" y2="620.5" stroke="rgba(0,0,0,0.17)" stroke-width="1"/><line x1="504.03" y1="474.0" x2="504.03" y2="620.5" stroke="rgba(0,0,0,0.11)" stroke-width="1"/><line x1="537.06" y1="474.0" x2="537.06" y2="620.5" stroke="rgba(0,0,0,0.11)" stroke-width="1"/><line x1="570.09" y1="474.0" x2="570.09" y2="620.5" stroke="rgba(0,0,0,0.11)" stroke-width="1"/><line x1="603.12" y1="474.0" x2="603.12" y2="620.5" stroke="rgba(0,0,0,0.11)" stroke-width="1"/><line x1="636.15" y1="474.0" x2="636.15" y2="620.5" stroke="rgba(0,0,0,0.17)" stroke-width="1"/><line x1="662.57" y1="474.0" x2="662.57" y2="620.5" stroke="rgba(0,0,0,0.11)" stroke-width="1"/><line x1="695.60" y1="474.0" x2="695.60" y2="620.5" stroke="rgba(0,0,0,0.11)" stroke-width="1"/><line x1="728.63" y1="474.0" x2="728.63" y2="620.5" stroke="rgba(0,0,0,0.11)" stroke-width="1"/><line x1="761.66" y1="474.0" x2="761.66" y2="620.5" stroke="rgba(0,0,0,0.11)" stroke-width="1"/><line x1="768.27" y1="474.0" x2="768.27" y2="620.5" stroke="rgba(0,0,0,0.17)" stroke-width="1"/><line x1="794.69" y1="474.0" x2="794.69" y2="620.5" stroke="rgba(0,0,0,0.11)" stroke-width="1"/><line x1="827.72" y1="474.0" x2="827.72" y2="620.5" stroke="rgba(0,0,0,0.11)" stroke-width="1"/><line x1="860.75" y1="474.0" x2="860.75" y2="620.5" stroke="rgba(0,0,0,0.11)" stroke-width="1"/><line x1="893.78" y1="474.0" x2="893.78" y2="620.5" stroke="rgba(0,0,0,0.11)" stroke-width="1"/><line x1="920.20" y1="474.0" x2="920.20" y2="620.5" stroke="rgba(0,0,0,0.17)" stroke-width="1"/><line x1="926.81" y1="474.0" x2="926.81" y2="620.5" stroke="rgba(0,0,0,0.11)" stroke-width="1"/><clipPath id="c474"><rect x="30" y="474.5" width="925" height="145.5"/></clipPath><polyline clip-path="url(#c474)" points="28.4,504.0 35.0,492.9 41.6,556.1 48.2,575.8 54.8,519.8 61.4,511.6 68.0,595.5 74.6,528.5 81.2,500.8 87.8,504.8 94.5,502.4 101.1,535.6 107.7,552.1 114.3,512.7 120.9,551.0 127.5,540.3 134.1,519.8 140.7,514.2 147.3,551.0 153.9,539.0 160.5,544.2 167.1,548.5 173.7,576.6 180.3,598.7 186.9,508.7 193.5,567.1 200.2,597.1 206.8,503.2 213.4,501.1 220.0,549.8 226.6,562.7 233.2,519.8 239.8,549.8 246.4,579.7 253.0,544.7 259.6,564.0 266.2,512.7 272.8,565.2 279.4,579.7 286.0,530.0 292.6,533.2 299.2,546.6 305.8,541.6 312.5,515.8 319.1,565.2 325.7,552.1 332.3,528.5 338.9,531.6 345.5,571.9 352.1,520.6 358.7,515.4 365.3,553.7 371.9,539.0 378.5,564.0 385.1,506.4 391.7,489.0 398.3,504.8 404.9,532.4 411.5,496.9 418.1,557.6 424.8,586.4 431.4,565.5 438.0,505.6 444.6,543.4 451.2,594.7 457.8,519.8 464.4,495.8 471.0,557.6 477.6,526.1 484.2,524.8 490.8,572.2 497.4,572.2 504.0,611.6 510.6,504.8 517.2,556.1 523.8,498.5 530.5,542.5 537.1,568.2 543.7,497.4 550.3,532.4 556.9,502.4 563.5,521.3 570.1,504.8 576.7,568.4 583.3,506.4 589.9,570.6 596.5,483.8 603.1,537.9 609.7,556.1 616.3,564.0 622.9,515.4 629.5,520.6 636.1,579.7 642.8,543.1 649.4,553.7 656.0,585.3 662.6,521.0 669.2,540.3 675.8,533.7 682.4,502.1 689.0,494.5 695.6,512.7 702.2,527.7 708.8,549.4 715.4,499.6 722.0,567.9 728.6,535.2 735.2,527.7 741.8,575.8 748.4,524.8 755.1,523.7 761.7,540.3 768.3,557.6 774.9,550.1 781.5,567.9 788.1,523.7 794.7,581.3 801.3,542.7 807.9,534.0 814.5,557.3 821.1,499.6 827.7,529.0 834.3,544.2 840.9,504.8 847.5,552.1 854.1,537.9 860.8,590.8 867.4,555.3 874.0,581.3 880.6,537.9 887.2,564.2 893.8,519.8 900.4,571.8 907.0,541.8 913.6,574.2 920.2,552.9 926.8,530.8 933.4,495.3 940.0,526.9 946.6,528.4" fill="none" stroke="#000" stroke-width="2.3" stroke-linejoin="miter" stroke-miterlimit="3"/><rect x="30" y="474.5" width="303" height="19" fill="#fff"/><line x1="33" y1="483.5" x2="45" y2="483.5" stroke="#000" stroke-width="2.6"/><text class="dv" x="50" y="488.3" font-size="12.6" letter-spacing="1.1" fill="#111" stroke="#111" stroke-width="0.3">NYSE - Advance-Decline Issues 565.00</text><rect x="29.5" y="474.0" width="926.0" height="146.5" fill="none" stroke="#a8a8a8" stroke-width="1"/><line x1="955.5" y1="617.5" x2="957.5" y2="617.5" stroke="#a8a8a8" stroke-width="1"/><line x1="955.5" y1="611.5" x2="957.5" y2="611.5" stroke="#a8a8a8" stroke-width="1"/><line x1="955.5" y1="606.5" x2="957.5" y2="606.5" stroke="#a8a8a8" stroke-width="1"/><line x1="955.5" y1="600.5" x2="958.5" y2="600.5" stroke="#a8a8a8" stroke-width="1"/><line x1="955.5" y1="594.5" x2="957.5" y2="594.5" stroke="#a8a8a8" stroke-width="1"/><line x1="955.5" y1="589.5" x2="957.5" y2="589.5" stroke="#a8a8a8" stroke-width="1"/><line x1="955.5" y1="583.5" x2="957.5" y2="583.5" stroke="#a8a8a8" stroke-width="1"/><line x1="955.5" y1="578.5" x2="957.5" y2="578.5" stroke="#a8a8a8" stroke-width="1"/><line x1="955.5" y1="572.5" x2="958.5" y2="572.5" stroke="#a8a8a8" stroke-width="1"/><line x1="955.5" y1="566.5" x2="957.5" y2="566.5" stroke="#a8a8a8" stroke-width="1"/><line x1="955.5" y1="561.5" x2="957.5" y2="561.5" stroke="#a8a8a8" stroke-width="1"/><line x1="955.5" y1="555.5" x2="957.5" y2="555.5" stroke="#a8a8a8" stroke-width="1"/><line x1="955.5" y1="550.5" x2="957.5" y2="550.5" stroke="#a8a8a8" stroke-width="1"/><line x1="955.5" y1="544.5" x2="958.5" y2="544.5" stroke="#a8a8a8" stroke-width="1"/><line x1="955.5" y1="538.5" x2="957.5" y2="538.5" stroke="#a8a8a8" stroke-width="1"/><line x1="955.5" y1="533.5" x2="957.5" y2="533.5" stroke="#a8a8a8" stroke-width="1"/><line x1="955.5" y1="527.5" x2="957.5" y2="527.5" stroke="#a8a8a8" stroke-width="1"/><line x1="955.5" y1="522.5" x2="957.5" y2="522.5" stroke="#a8a8a8" stroke-width="1"/><line x1="955.5" y1="516.5" x2="958.5" y2="516.5" stroke="#a8a8a8" stroke-width="1"/><line x1="955.5" y1="510.5" x2="957.5" y2="510.5" stroke="#a8a8a8" stroke-width="1"/><line x1="955.5" y1="505.5" x2="957.5" y2="505.5" stroke="#a8a8a8" stroke-width="1"/><line x1="955.5" y1="499.5" x2="957.5" y2="499.5" stroke="#a8a8a8" stroke-width="1"/><line x1="955.5" y1="494.5" x2="957.5" y2="494.5" stroke="#a8a8a8" stroke-width="1"/><line x1="955.5" y1="488.5" x2="958.5" y2="488.5" stroke="#a8a8a8" stroke-width="1"/><line x1="955.5" y1="482.5" x2="957.5" y2="482.5" stroke="#a8a8a8" stroke-width="1"/><line x1="955.5" y1="477.5" x2="957.5" y2="477.5" stroke="#a8a8a8" stroke-width="1"/>
<text class="ar" x="995" y="492.4" font-size="13.3" letter-spacing="0.3" text-anchor="end" fill="#000" stroke="#000" stroke-width="0.3">2000</text>
<text class="ar" x="995" y="520.4" font-size="13.3" letter-spacing="0.3" text-anchor="end" fill="#000" stroke="#000" stroke-width="0.3">1000</text>
<text class="ar" x="995" y="548.4" font-size="13.3" letter-spacing="0.3" text-anchor="end" fill="#000" stroke="#000" stroke-width="0.3">0</text>
<text class="ar" x="995" y="576.4" font-size="13.3" letter-spacing="0.3" text-anchor="end" fill="#000" stroke="#000" stroke-width="0.3">-1000</text>
<text class="ar" x="995" y="604.4" font-size="13.3" letter-spacing="0.3" text-anchor="end" fill="#000" stroke="#000" stroke-width="0.3">-2000</text>
<line x1="29.5" y1="632.67" x2="955.5" y2="632.67" stroke="rgba(0,0,0,0.11)" stroke-width="1"/><line x1="29.5" y1="660.80" x2="955.5" y2="660.80" stroke="rgba(0,0,0,0.11)" stroke-width="1"/><line x1="29.5" y1="688.93" x2="955.5" y2="688.93" stroke="rgba(0,0,0,0.11)" stroke-width="1"/><line x1="29.5" y1="717.06" x2="955.5" y2="717.06" stroke="rgba(0,0,0,0.11)" stroke-width="1"/><line x1="29.5" y1="745.19" x2="955.5" y2="745.19" stroke="rgba(0,0,0,0.11)" stroke-width="1"/><line x1="61.42" y1="620.5" x2="61.42" y2="767.5" stroke="rgba(0,0,0,0.11)" stroke-width="1"/><line x1="74.64" y1="620.5" x2="74.64" y2="767.5" stroke="rgba(0,0,0,0.17)" stroke-width="1"/><line x1="94.45" y1="620.5" x2="94.45" y2="767.5" stroke="rgba(0,0,0,0.11)" stroke-width="1"/><line x1="127.48" y1="620.5" x2="127.48" y2="767.5" stroke="rgba(0,0,0,0.11)" stroke-width="1"/><line x1="160.51" y1="620.5" x2="160.51" y2="767.5" stroke="rgba(0,0,0,0.11)" stroke-width="1"/><line x1="193.54" y1="620.5" x2="193.54" y2="767.5" stroke="rgba(0,0,0,0.11)" stroke-width="1"/><line x1="219.97" y1="620.5" x2="219.97" y2="767.5" stroke="rgba(0,0,0,0.17)" stroke-width="1"/><line x1="253.00" y1="620.5" x2="253.00" y2="767.5" stroke="rgba(0,0,0,0.11)" stroke-width="1"/><line x1="286.03" y1="620.5" x2="286.03" y2="767.5" stroke="rgba(0,0,0,0.11)" stroke-width="1"/><line x1="312.45" y1="620.5" x2="312.45" y2="767.5" stroke="rgba(0,0,0,0.11)" stroke-width="1"/><line x1="345.48" y1="620.5" x2="345.48" y2="767.5" stroke="rgba(0,0,0,0.17)" stroke-width="1"/><line x1="371.91" y1="620.5" x2="371.91" y2="767.5" stroke="rgba(0,0,0,0.11)" stroke-width="1"/><line x1="404.94" y1="620.5" x2="404.94" y2="767.5" stroke="rgba(0,0,0,0.11)" stroke-width="1"/><line x1="437.97" y1="620.5" x2="437.97" y2="767.5" stroke="rgba(0,0,0,0.11)" stroke-width="1"/><line x1="471.00" y1="620.5" x2="471.00" y2="767.5" stroke="rgba(0,0,0,0.11)" stroke-width="1"/><line x1="490.81" y1="620.5" x2="490.81" y2="767.5" stroke="rgba(0,0,0,0.17)" stroke-width="1"/><line x1="504.03" y1="620.5" x2="504.03" y2="767.5" stroke="rgba(0,0,0,0.11)" stroke-width="1"/><line x1="537.06" y1="620.5" x2="537.06" y2="767.5" stroke="rgba(0,0,0,0.11)" stroke-width="1"/><line x1="570.09" y1="620.5" x2="570.09" y2="767.5" stroke="rgba(0,0,0,0.11)" stroke-width="1"/><line x1="603.12" y1="620.5" x2="603.12" y2="767.5" stroke="rgba(0,0,0,0.11)" stroke-width="1"/><line x1="636.15" y1="620.5" x2="636.15" y2="767.5" stroke="rgba(0,0,0,0.17)" stroke-width="1"/><line x1="662.57" y1="620.5" x2="662.57" y2="767.5" stroke="rgba(0,0,0,0.11)" stroke-width="1"/><line x1="695.60" y1="620.5" x2="695.60" y2="767.5" stroke="rgba(0,0,0,0.11)" stroke-width="1"/><line x1="728.63" y1="620.5" x2="728.63" y2="767.5" stroke="rgba(0,0,0,0.11)" stroke-width="1"/><line x1="761.66" y1="620.5" x2="761.66" y2="767.5" stroke="rgba(0,0,0,0.11)" stroke-width="1"/><line x1="768.27" y1="620.5" x2="768.27" y2="767.5" stroke="rgba(0,0,0,0.17)" stroke-width="1"/><line x1="794.69" y1="620.5" x2="794.69" y2="767.5" stroke="rgba(0,0,0,0.11)" stroke-width="1"/><line x1="827.72" y1="620.5" x2="827.72" y2="767.5" stroke="rgba(0,0,0,0.11)" stroke-width="1"/><line x1="860.75" y1="620.5" x2="860.75" y2="767.5" stroke="rgba(0,0,0,0.11)" stroke-width="1"/><line x1="893.78" y1="620.5" x2="893.78" y2="767.5" stroke="rgba(0,0,0,0.11)" stroke-width="1"/><line x1="920.20" y1="620.5" x2="920.20" y2="767.5" stroke="rgba(0,0,0,0.17)" stroke-width="1"/><line x1="926.81" y1="620.5" x2="926.81" y2="767.5" stroke="rgba(0,0,0,0.11)" stroke-width="1"/><clipPath id="c620"><rect x="30" y="621.0" width="925" height="146.0"/></clipPath><polyline clip-path="url(#c620)" points="28.4,648.0 35.0,646.1 41.6,660.2 48.2,665.7 54.8,653.9 61.4,651.6 68.0,685.2 74.6,658.6 81.2,646.1 87.8,649.7 94.5,647.3 101.1,660.2 107.7,662.1 114.3,648.9 120.9,664.6 127.5,656.7 134.1,646.1 140.7,654.7 147.3,663.0 153.9,656.7 160.5,663.0 167.1,663.3 173.7,669.9 180.3,679.0 186.9,653.1 193.5,665.7 200.2,677.7 206.8,650.8 213.4,627.3 220.0,665.7 226.6,669.3 233.2,652.3 239.8,660.2 246.4,671.1 253.0,659.4 259.6,669.6 266.2,658.3 272.8,669.6 279.4,673.5 286.0,655.2 292.6,656.7 299.2,656.7 305.8,665.7 312.5,649.2 319.1,673.5 325.7,665.2 332.3,656.5 338.9,643.7 345.5,669.6 352.1,656.7 358.7,656.7 365.3,665.7 371.9,658.3 378.5,664.1 385.1,649.2 391.7,643.7 398.3,650.0 404.9,656.3 411.5,642.6 418.1,663.3 424.8,675.8 431.4,664.1 438.0,651.6 444.6,662.5 451.2,675.1 457.8,655.2 464.4,645.3 471.0,665.7 477.6,656.7 484.2,656.7 490.8,678.2 497.4,758.1 504.0,694.6 510.6,644.8 517.2,669.6 523.8,641.1 530.5,657.6 537.1,665.7 543.7,646.1 550.3,658.6 556.9,643.7 563.5,654.7 570.1,646.1 576.7,669.6 583.3,651.6 589.9,668.0 596.5,642.2 603.1,658.6 609.7,663.3 616.3,668.0 622.9,653.9 629.5,634.8 636.1,675.8 642.8,664.6 649.4,667.2 656.0,676.2 662.6,651.6 669.2,665.7 675.8,656.7 682.4,650.0 689.0,644.5 695.6,650.0 702.2,656.3 708.8,662.5 715.4,647.6 722.0,681.3 728.6,655.2 735.2,655.2 741.8,673.5 748.4,650.0 755.1,651.1 761.7,659.9 768.3,665.7 774.9,659.4 781.5,668.0 788.1,650.0 794.7,670.8 801.3,664.6 807.9,655.5 814.5,664.1 821.1,647.6 827.7,657.0 834.3,662.8 840.9,650.0 847.5,663.0 854.1,658.3 860.8,673.9 867.4,662.0 874.0,668.3 880.6,659.4 887.2,668.8 893.8,650.0 900.4,669.9 907.0,660.9 913.6,676.1 920.2,665.6 926.8,659.4 933.4,644.8 940.0,645.7 946.6,634.8" fill="none" stroke="#000" stroke-width="2.3" stroke-linejoin="miter" stroke-miterlimit="3"/><rect x="30" y="621.0" width="309" height="19" fill="#fff"/><line x1="33" y1="630.0" x2="45" y2="630.0" stroke="#000" stroke-width="2.6"/><text class="dv" x="50" y="634.8" font-size="12.6" letter-spacing="1.1" fill="#111" stroke="#111" stroke-width="0.3">NYSE - Advance-Decline Volume 936.99</text><rect x="29.5" y="620.5" width="926.0" height="147.0" fill="none" stroke="#a8a8a8" stroke-width="1"/><line x1="955.5" y1="762.5" x2="957.5" y2="762.5" stroke="#a8a8a8" stroke-width="1"/><line x1="955.5" y1="756.5" x2="957.5" y2="756.5" stroke="#a8a8a8" stroke-width="1"/><line x1="955.5" y1="751.5" x2="957.5" y2="751.5" stroke="#a8a8a8" stroke-width="1"/><line x1="955.5" y1="745.5" x2="958.5" y2="745.5" stroke="#a8a8a8" stroke-width="1"/><line x1="955.5" y1="740.5" x2="957.5" y2="740.5" stroke="#a8a8a8" stroke-width="1"/><line x1="955.5" y1="734.5" x2="957.5" y2="734.5" stroke="#a8a8a8" stroke-width="1"/><line x1="955.5" y1="728.5" x2="957.5" y2="728.5" stroke="#a8a8a8" stroke-width="1"/><line x1="955.5" y1="723.5" x2="957.5" y2="723.5" stroke="#a8a8a8" stroke-width="1"/><line x1="955.5" y1="717.5" x2="958.5" y2="717.5" stroke="#a8a8a8" stroke-width="1"/><line x1="955.5" y1="711.5" x2="957.5" y2="711.5" stroke="#a8a8a8" stroke-width="1"/><line x1="955.5" y1="706.5" x2="957.5" y2="706.5" stroke="#a8a8a8" stroke-width="1"/><line x1="955.5" y1="700.5" x2="957.5" y2="700.5" stroke="#a8a8a8" stroke-width="1"/><line x1="955.5" y1="695.5" x2="957.5" y2="695.5" stroke="#a8a8a8" stroke-width="1"/><line x1="955.5" y1="689.5" x2="958.5" y2="689.5" stroke="#a8a8a8" stroke-width="1"/><line x1="955.5" y1="683.5" x2="957.5" y2="683.5" stroke="#a8a8a8" stroke-width="1"/><line x1="955.5" y1="678.5" x2="957.5" y2="678.5" stroke="#a8a8a8" stroke-width="1"/><line x1="955.5" y1="672.5" x2="957.5" y2="672.5" stroke="#a8a8a8" stroke-width="1"/><line x1="955.5" y1="666.5" x2="957.5" y2="666.5" stroke="#a8a8a8" stroke-width="1"/><line x1="955.5" y1="661.5" x2="958.5" y2="661.5" stroke="#a8a8a8" stroke-width="1"/><line x1="955.5" y1="655.5" x2="957.5" y2="655.5" stroke="#a8a8a8" stroke-width="1"/><line x1="955.5" y1="650.5" x2="957.5" y2="650.5" stroke="#a8a8a8" stroke-width="1"/><line x1="955.5" y1="644.5" x2="957.5" y2="644.5" stroke="#a8a8a8" stroke-width="1"/><line x1="955.5" y1="638.5" x2="957.5" y2="638.5" stroke="#a8a8a8" stroke-width="1"/><line x1="955.5" y1="633.5" x2="958.5" y2="633.5" stroke="#a8a8a8" stroke-width="1"/><line x1="955.5" y1="627.5" x2="957.5" y2="627.5" stroke="#a8a8a8" stroke-width="1"/><line x1="955.5" y1="621.5" x2="957.5" y2="621.5" stroke="#a8a8a8" stroke-width="1"/>
<text class="ar" x="995" y="637.0" font-size="13.3" letter-spacing="0.3" text-anchor="end" fill="#000" stroke="#000" stroke-width="0.3">1000</text>
<text class="ar" x="995" y="665.1" font-size="13.3" letter-spacing="0.3" text-anchor="end" fill="#000" stroke="#000" stroke-width="0.3">0</text>
<text class="ar" x="995" y="693.2" font-size="13.3" letter-spacing="0.3" text-anchor="end" fill="#000" stroke="#000" stroke-width="0.3">-1000</text>
<text class="ar" x="995" y="721.4" font-size="13.3" letter-spacing="0.3" text-anchor="end" fill="#000" stroke="#000" stroke-width="0.3">-2000</text>
<text class="ar" x="995" y="749.5" font-size="13.3" letter-spacing="0.3" text-anchor="end" fill="#000" stroke="#000" stroke-width="0.3">-3000</text>
<line x1="29.5" y1="782.18" x2="955.5" y2="782.18" stroke="rgba(0,0,0,0.11)" stroke-width="1"/><line x1="29.5" y1="803.36" x2="955.5" y2="803.36" stroke="rgba(0,0,0,0.11)" stroke-width="1"/><line x1="29.5" y1="824.54" x2="955.5" y2="824.54" stroke="rgba(0,0,0,0.11)" stroke-width="1"/><line x1="29.5" y1="845.72" x2="955.5" y2="845.72" stroke="rgba(0,0,0,0.11)" stroke-width="1"/><line x1="29.5" y1="866.90" x2="955.5" y2="866.90" stroke="rgba(0,0,0,0.11)" stroke-width="1"/><line x1="29.5" y1="888.08" x2="955.5" y2="888.08" stroke="rgba(0,0,0,0.11)" stroke-width="1"/><line x1="29.5" y1="909.26" x2="955.5" y2="909.26" stroke="rgba(0,0,0,0.11)" stroke-width="1"/><line x1="61.42" y1="767.5" x2="61.42" y2="913.5" stroke="rgba(0,0,0,0.11)" stroke-width="1"/><line x1="74.64" y1="767.5" x2="74.64" y2="913.5" stroke="rgba(0,0,0,0.17)" stroke-width="1"/><line x1="94.45" y1="767.5" x2="94.45" y2="913.5" stroke="rgba(0,0,0,0.11)" stroke-width="1"/><line x1="127.48" y1="767.5" x2="127.48" y2="913.5" stroke="rgba(0,0,0,0.11)" stroke-width="1"/><line x1="160.51" y1="767.5" x2="160.51" y2="913.5" stroke="rgba(0,0,0,0.11)" stroke-width="1"/><line x1="193.54" y1="767.5" x2="193.54" y2="913.5" stroke="rgba(0,0,0,0.11)" stroke-width="1"/><line x1="219.97" y1="767.5" x2="219.97" y2="913.5" stroke="rgba(0,0,0,0.17)" stroke-width="1"/><line x1="253.00" y1="767.5" x2="253.00" y2="913.5" stroke="rgba(0,0,0,0.11)" stroke-width="1"/><line x1="286.03" y1="767.5" x2="286.03" y2="913.5" stroke="rgba(0,0,0,0.11)" stroke-width="1"/><line x1="312.45" y1="767.5" x2="312.45" y2="913.5" stroke="rgba(0,0,0,0.11)" stroke-width="1"/><line x1="345.48" y1="767.5" x2="345.48" y2="913.5" stroke="rgba(0,0,0,0.17)" stroke-width="1"/><line x1="371.91" y1="767.5" x2="371.91" y2="913.5" stroke="rgba(0,0,0,0.11)" stroke-width="1"/><line x1="404.94" y1="767.5" x2="404.94" y2="913.5" stroke="rgba(0,0,0,0.11)" stroke-width="1"/><line x1="437.97" y1="767.5" x2="437.97" y2="913.5" stroke="rgba(0,0,0,0.11)" stroke-width="1"/><line x1="471.00" y1="767.5" x2="471.00" y2="913.5" stroke="rgba(0,0,0,0.11)" stroke-width="1"/><line x1="490.81" y1="767.5" x2="490.81" y2="913.5" stroke="rgba(0,0,0,0.17)" stroke-width="1"/><line x1="504.03" y1="767.5" x2="504.03" y2="913.5" stroke="rgba(0,0,0,0.11)" stroke-width="1"/><line x1="537.06" y1="767.5" x2="537.06" y2="913.5" stroke="rgba(0,0,0,0.11)" stroke-width="1"/><line x1="570.09" y1="767.5" x2="570.09" y2="913.5" stroke="rgba(0,0,0,0.11)" stroke-width="1"/><line x1="603.12" y1="767.5" x2="603.12" y2="913.5" stroke="rgba(0,0,0,0.11)" stroke-width="1"/><line x1="636.15" y1="767.5" x2="636.15" y2="913.5" stroke="rgba(0,0,0,0.17)" stroke-width="1"/><line x1="662.57" y1="767.5" x2="662.57" y2="913.5" stroke="rgba(0,0,0,0.11)" stroke-width="1"/><line x1="695.60" y1="767.5" x2="695.60" y2="913.5" stroke="rgba(0,0,0,0.11)" stroke-width="1"/><line x1="728.63" y1="767.5" x2="728.63" y2="913.5" stroke="rgba(0,0,0,0.11)" stroke-width="1"/><line x1="761.66" y1="767.5" x2="761.66" y2="913.5" stroke="rgba(0,0,0,0.11)" stroke-width="1"/><line x1="768.27" y1="767.5" x2="768.27" y2="913.5" stroke="rgba(0,0,0,0.17)" stroke-width="1"/><line x1="794.69" y1="767.5" x2="794.69" y2="913.5" stroke="rgba(0,0,0,0.11)" stroke-width="1"/><line x1="827.72" y1="767.5" x2="827.72" y2="913.5" stroke="rgba(0,0,0,0.11)" stroke-width="1"/><line x1="860.75" y1="767.5" x2="860.75" y2="913.5" stroke="rgba(0,0,0,0.11)" stroke-width="1"/><line x1="893.78" y1="767.5" x2="893.78" y2="913.5" stroke="rgba(0,0,0,0.11)" stroke-width="1"/><line x1="920.20" y1="767.5" x2="920.20" y2="913.5" stroke="rgba(0,0,0,0.17)" stroke-width="1"/><line x1="926.81" y1="767.5" x2="926.81" y2="913.5" stroke="rgba(0,0,0,0.11)" stroke-width="1"/><clipPath id="c767"><rect x="30" y="768.0" width="925" height="145.0"/></clipPath><polyline clip-path="url(#c767)" points="28.4,867.3 35.0,857.6 41.6,861.3 48.2,867.6 54.8,854.7 61.4,852.4 68.0,861.0 74.6,862.3 81.2,856.0 87.8,845.3 94.5,834.4 101.1,825.8 107.7,843.5 114.3,829.7 120.9,825.8 127.5,838.3 134.1,835.6 140.7,808.5 147.3,827.8 153.9,832.0 160.5,822.6 167.1,834.4 173.7,852.4 180.3,864.9 186.9,855.1 193.5,852.4 200.2,877.0 206.8,861.0 213.4,850.8 220.0,849.3 226.6,863.8 233.2,856.3 239.8,853.2 246.4,867.6 253.0,865.4 259.6,868.8 266.2,838.8 272.8,866.5 279.4,878.3 286.0,868.5 292.6,861.0 299.2,866.0 305.8,868.8 312.5,853.2 319.1,867.3 325.7,870.1 332.3,859.0 338.9,848.2 345.5,863.4 352.1,867.6 358.7,849.3 365.3,852.9 371.9,851.9 378.5,864.9 385.1,847.7 391.7,809.6 398.3,803.4 404.9,804.3 411.5,778.3 418.1,799.9 424.8,817.1 431.4,861.0 438.0,850.0 444.6,825.8 451.2,848.8 457.8,834.7 464.4,825.8 471.0,831.6 477.6,825.3 484.2,794.0 490.8,832.8 497.4,859.4 504.0,904.6 510.6,868.1 517.2,858.7 523.8,870.1 530.5,869.4 537.1,871.7 543.7,857.1 550.3,850.4 556.9,838.8 563.5,843.8 570.1,837.5 576.7,839.9 583.3,835.9 589.9,837.2 596.5,805.4 603.1,795.5 609.7,835.9 616.3,833.1 622.9,820.3 629.5,812.8 636.1,836.0 642.8,832.0 649.4,837.5 656.0,856.0 662.6,849.3 669.2,845.3 675.8,850.8 682.4,814.0 689.0,792.9 695.6,780.8 702.2,784.5 708.8,786.1 715.4,779.5 722.0,818.7 728.6,815.3 735.2,823.7 741.8,826.5 748.4,815.3 755.1,820.6 761.7,828.1 768.3,829.7 774.9,840.6 781.5,845.0 788.1,835.2 794.7,846.6 801.3,851.6 807.9,839.1 814.5,856.0 821.1,825.3 827.7,817.6 834.3,808.5 840.9,814.8 847.5,814.8 854.1,824.2 860.8,844.5 867.4,857.1 874.0,861.0 880.6,853.1 887.2,849.2 893.8,853.1 900.4,862.2 907.0,848.1 913.6,863.3 920.2,867.5 926.8,860.2 933.4,849.2 940.0,776.7 946.6,811.6" fill="none" stroke="#000" stroke-width="2.3" stroke-linejoin="miter" stroke-miterlimit="3"/><rect x="30" y="768.0" width="276" height="19" fill="#fff"/><line x1="33" y1="777.0" x2="45" y2="777.0" stroke="#000" stroke-width="2.6"/><text class="dv" x="50" y="781.8" font-size="12.6" letter-spacing="1.1" fill="#111" stroke="#111" stroke-width="0.3">NYSE - New Highs-New Lows 260.00</text><rect x="29.5" y="767.5" width="926.0" height="146.0" fill="none" stroke="#a8a8a8" stroke-width="1"/><line x1="955.5" y1="909.5" x2="958.5" y2="909.5" stroke="#a8a8a8" stroke-width="1"/><line x1="955.5" y1="888.5" x2="958.5" y2="888.5" stroke="#a8a8a8" stroke-width="1"/><line x1="955.5" y1="867.5" x2="958.5" y2="867.5" stroke="#a8a8a8" stroke-width="1"/><line x1="955.5" y1="846.5" x2="958.5" y2="846.5" stroke="#a8a8a8" stroke-width="1"/><line x1="955.5" y1="825.5" x2="958.5" y2="825.5" stroke="#a8a8a8" stroke-width="1"/><line x1="955.5" y1="803.5" x2="958.5" y2="803.5" stroke="#a8a8a8" stroke-width="1"/><line x1="955.5" y1="782.5" x2="958.5" y2="782.5" stroke="#a8a8a8" stroke-width="1"/>
<text class="ar" x="987" y="786.5" font-size="13.3" letter-spacing="0.3" text-anchor="end" fill="#000" stroke="#000" stroke-width="0.3">400</text>
<text class="ar" x="987" y="807.7" font-size="13.3" letter-spacing="0.3" text-anchor="end" fill="#000" stroke="#000" stroke-width="0.3">300</text>
<text class="ar" x="987" y="828.8" font-size="13.3" letter-spacing="0.3" text-anchor="end" fill="#000" stroke="#000" stroke-width="0.3">200</text>
<text class="ar" x="987" y="850.0" font-size="13.3" letter-spacing="0.3" text-anchor="end" fill="#000" stroke="#000" stroke-width="0.3">100</text>
<text class="ar" x="987" y="871.2" font-size="13.3" letter-spacing="0.3" text-anchor="end" fill="#000" stroke="#000" stroke-width="0.3">0</text>
<text class="ar" x="987" y="892.4" font-size="13.3" letter-spacing="0.3" text-anchor="end" fill="#000" stroke="#000" stroke-width="0.3">-100</text>
<text class="ar" x="987" y="913.6" font-size="13.3" letter-spacing="0.3" text-anchor="end" fill="#000" stroke="#000" stroke-width="0.3">-200</text>
</g></svg></div></body></html>
